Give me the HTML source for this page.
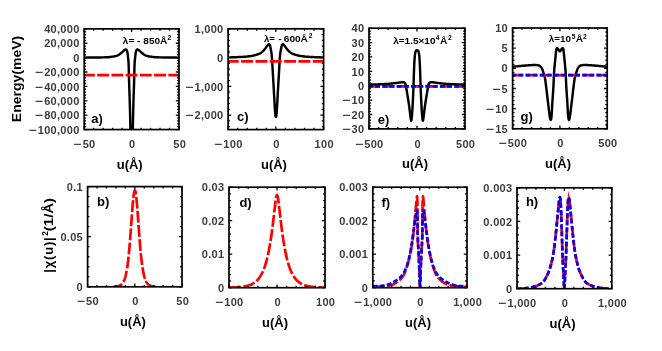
<!DOCTYPE html><html><head><meta charset="utf-8"><title>figure</title><style>html,body{margin:0;padding:0;background:#fff}svg{display:block;will-change:transform}</style></head><body><svg width="662" height="351" viewBox="0 0 662 351">
<style>text{font-family:"Liberation Sans", sans-serif;font-weight:bold}.t{font-size:11px;letter-spacing:0.3px;fill:#3c3c3c}.l{font-size:13px;fill:#000}.m{font-size:9.9px;fill:#000}.s{font-size:6.6px}</style>
<rect width="662" height="351" fill="#fff"/>
<defs>
<clipPath id="cp_a"><rect x="84.2" y="28.85" width="94.8" height="100.7"/></clipPath>
<clipPath id="cp_c"><rect x="228.1" y="28.8" width="95.5" height="100.8"/></clipPath>
<clipPath id="cp_e"><rect x="369" y="28.2" width="96" height="100.7"/></clipPath>
<clipPath id="cp_g"><rect x="512.6" y="28" width="94.6" height="100.8"/></clipPath>
<clipPath id="cp_b"><rect x="87.6" y="186.6" width="94.4" height="100.2"/></clipPath>
<clipPath id="cp_d"><rect x="229" y="187.2" width="96" height="100.5"/></clipPath>
<clipPath id="cp_f"><rect x="372.8" y="187.2" width="94.2" height="100.5"/></clipPath>
<clipPath id="cp_h"><rect x="517" y="187.8" width="94.8" height="100.9"/></clipPath>
</defs>
<path clip-path="url(#cp_a)" d="M84.2 57.6 L85.53 57.6 L86.86 57.59 L88.18 57.59 L89.5 57.58 L90.8 57.57 L92.11 57.55 L93.41 57.54 L94.7 57.52 L95.98 57.51 L97.27 57.49 L98.56 57.47 L99.86 57.45 L101.17 57.42 L102.46 57.4 L103.73 57.36 L104.98 57.32 L106.19 57.28 L107.35 57.23 L108.47 57.17 L109.58 57.08 L110.66 56.97 L111.72 56.82 L112.73 56.66 L113.7 56.48 L114.61 56.28 L115.45 56.09 L116.22 55.87 L116.93 55.63 L117.6 55.35 L118.25 55.05 L118.89 54.71 L119.55 54.33 L120.22 53.85 L120.89 53.31 L121.53 52.74 L122.14 52.19 L122.7 51.69 L123.2 51.24 L123.66 50.78 L124.09 50.37 L124.5 50.03 L124.91 49.78 L125.31 49.56 L125.68 49.42 L126.01 49.43 L126.31 49.65 L126.57 49.96 L126.77 50.29 L126.94 50.72 L127.1 51.23 L127.25 51.8 L127.4 52.5 L127.54 53.3 L127.67 54.19 L127.8 55.11 L127.91 56.04 L128.02 56.94 L128.12 57.84 L128.21 58.77 L128.3 59.72 L128.39 60.66 L128.46 61.6 L128.52 62.51 L128.57 63.38 L128.61 64.22 L128.65 65.02 L128.68 65.83 L128.71 66.64 L128.73 67.49 L128.76 68.38 L128.78 69.29 L128.8 70.21 L128.82 71.16 L128.84 72.14 L128.86 73.16 L128.88 74.22 L128.91 75.34 L128.94 76.53 L128.98 77.8 L129.02 79.12 L129.06 80.49 L129.1 81.89 L129.15 83.3 L129.19 84.71 L129.24 86.1 L129.28 87.45 L129.32 88.76 L129.37 90.05 L129.41 91.32 L129.45 92.59 L129.5 93.85 L129.54 95.11 L129.59 96.39 L129.63 97.68 L129.67 99 L129.71 100.35 L129.75 101.73 L129.79 103.14 L129.83 104.57 L129.87 106.01 L129.91 107.47 L129.95 108.93 L129.99 110.4 L130.02 111.86 L130.06 113.31 L130.09 114.75 L130.13 116.18 L130.16 117.59 L130.19 119 L130.22 120.41 L130.25 121.81 L130.28 123.22 L130.3 124.63 L130.33 126.04 L130.36 127.46 L130.39 128.89 L130.42 130.32 L130.44 131.75 L130.47 133.18 L130.5 134.61 L130.53 136.05 L130.56 137.49 L130.58 138.95 L130.61 140.42 L130.64 141.91 L130.67 143.42 L130.7 144.96 L130.73 146.54 L130.76 148.16 L130.79 149.82 L130.82 151.51 L130.85 153.22 L130.89 154.94 L130.92 156.65 L130.95 158.36 L130.99 160.05 L131.02 161.7 L131.06 163.32 L131.1 164.89 L131.14 166.52 L131.18 168.32 L131.23 170.22 L131.28 172.13 L131.32 174 L131.37 175.73 L131.43 177.27 L131.48 178.53 L131.53 179.44 L131.58 179.94 L131.62 179.94 L131.67 179.44 L131.72 178.53 L131.77 177.27 L131.83 175.73 L131.88 174 L131.92 172.13 L131.97 170.22 L132.02 168.32 L132.06 166.52 L132.1 164.89 L132.14 163.32 L132.18 161.7 L132.21 160.05 L132.25 158.36 L132.28 156.65 L132.31 154.94 L132.35 153.22 L132.38 151.51 L132.41 149.82 L132.44 148.16 L132.47 146.54 L132.5 144.96 L132.53 143.42 L132.56 141.91 L132.59 140.42 L132.62 138.95 L132.64 137.49 L132.67 136.05 L132.7 134.61 L132.73 133.18 L132.76 131.75 L132.78 130.32 L132.81 128.89 L132.84 127.46 L132.87 126.04 L132.9 124.63 L132.92 123.22 L132.95 121.81 L132.98 120.41 L133.01 119 L133.04 117.59 L133.07 116.18 L133.11 114.75 L133.14 113.31 L133.18 111.86 L133.21 110.4 L133.25 108.93 L133.29 107.47 L133.33 106.01 L133.37 104.57 L133.41 103.14 L133.45 101.73 L133.49 100.35 L133.53 99 L133.57 97.68 L133.61 96.39 L133.66 95.11 L133.7 93.85 L133.75 92.59 L133.79 91.32 L133.83 90.05 L133.88 88.76 L133.92 87.45 L133.96 86.1 L134.01 84.71 L134.05 83.3 L134.1 81.89 L134.14 80.49 L134.18 79.12 L134.22 77.8 L134.26 76.53 L134.29 75.34 L134.32 74.22 L134.34 73.16 L134.36 72.14 L134.38 71.16 L134.4 70.21 L134.42 69.29 L134.44 68.38 L134.47 67.49 L134.49 66.64 L134.52 65.83 L134.55 65.02 L134.59 64.22 L134.63 63.38 L134.68 62.51 L134.74 61.6 L134.81 60.66 L134.9 59.72 L134.99 58.77 L135.08 57.84 L135.18 56.94 L135.29 56.04 L135.4 55.11 L135.53 54.19 L135.66 53.3 L135.8 52.5 L135.95 51.8 L136.1 51.23 L136.26 50.72 L136.43 50.29 L136.63 49.96 L136.89 49.65 L137.19 49.43 L137.52 49.42 L137.89 49.56 L138.29 49.78 L138.7 50.03 L139.11 50.37 L139.54 50.78 L140 51.24 L140.5 51.69 L141.06 52.19 L141.67 52.74 L142.31 53.31 L142.98 53.85 L143.65 54.33 L144.31 54.71 L144.95 55.05 L145.6 55.35 L146.27 55.63 L146.98 55.87 L147.75 56.09 L148.59 56.28 L149.5 56.48 L150.47 56.66 L151.48 56.82 L152.54 56.97 L153.62 57.08 L154.73 57.17 L155.85 57.23 L157.01 57.28 L158.22 57.32 L159.47 57.36 L160.74 57.4 L162.03 57.42 L163.34 57.45 L164.64 57.47 L165.93 57.49 L167.22 57.51 L168.5 57.52 L169.79 57.54 L171.09 57.55 L172.4 57.57 L173.7 57.58 L175.02 57.59 L176.34 57.59 L177.67 57.6 L179 57.6" fill="none" stroke="#000" stroke-width="2.45" stroke-linejoin="round"/>
<path clip-path="url(#cp_a)" d="M84.2 75.2 L179 75.2" fill="none" stroke="#ff0000" stroke-width="2.7" stroke-linejoin="round" stroke-dasharray="11.85 2.37" stroke-dashoffset="1.2"/>
<path clip-path="url(#cp_c)" d="M228.1 57.4 L229.35 57.38 L230.57 57.36 L231.78 57.33 L232.96 57.3 L234.11 57.27 L235.24 57.23 L236.35 57.18 L237.43 57.14 L238.49 57.09 L239.53 57.04 L240.54 56.99 L241.52 56.94 L242.48 56.88 L243.42 56.82 L244.35 56.76 L245.26 56.68 L246.14 56.6 L247 56.51 L247.83 56.43 L248.63 56.33 L249.39 56.24 L250.11 56.14 L250.79 56.04 L251.42 55.94 L252.01 55.83 L252.58 55.72 L253.13 55.6 L253.69 55.47 L254.26 55.34 L254.84 55.19 L255.44 55.03 L256.04 54.86 L256.64 54.67 L257.22 54.48 L257.8 54.27 L258.36 54.06 L258.9 53.83 L259.43 53.59 L259.96 53.33 L260.47 53.05 L260.96 52.76 L261.43 52.46 L261.88 52.14 L262.3 51.8 L262.69 51.44 L263.07 51.06 L263.44 50.66 L263.81 50.24 L264.18 49.82 L264.56 49.37 L264.94 48.88 L265.32 48.38 L265.69 47.86 L266.05 47.36 L266.4 46.89 L266.72 46.47 L267.02 46.08 L267.3 45.7 L267.57 45.35 L267.84 45.04 L268.11 44.79 L268.4 44.56 L268.68 44.36 L268.95 44.23 L269.19 44.22 L269.43 44.39 L269.64 44.7 L269.83 45.05 L269.98 45.41 L270.12 45.83 L270.23 46.33 L270.34 46.87 L270.45 47.43 L270.56 47.99 L270.67 48.55 L270.79 49.12 L270.92 49.71 L271.04 50.32 L271.15 50.94 L271.26 51.57 L271.36 52.21 L271.45 52.86 L271.53 53.53 L271.61 54.22 L271.68 54.93 L271.75 55.63 L271.81 56.34 L271.87 57.04 L271.93 57.73 L271.98 58.4 L272.02 59.02 L272.06 59.63 L272.1 60.23 L272.13 60.84 L272.17 61.5 L272.21 62.21 L272.26 62.99 L272.31 63.87 L272.36 64.84 L272.43 65.89 L272.49 67 L272.56 68.18 L272.63 69.4 L272.7 70.65 L272.77 71.92 L272.85 73.21 L272.92 74.49 L272.99 75.75 L273.06 76.99 L273.13 78.19 L273.2 79.36 L273.27 80.52 L273.33 81.68 L273.4 82.84 L273.47 84.01 L273.54 85.17 L273.61 86.33 L273.67 87.49 L273.74 88.65 L273.81 89.81 L273.88 90.98 L273.94 92.14 L274.01 93.31 L274.08 94.48 L274.14 95.69 L274.21 96.93 L274.28 98.19 L274.35 99.47 L274.42 100.74 L274.48 102.01 L274.55 103.26 L274.62 104.48 L274.69 105.66 L274.75 106.79 L274.82 107.85 L274.88 108.85 L274.95 109.76 L275.01 110.61 L275.07 111.44 L275.12 112.23 L275.18 112.98 L275.24 113.68 L275.3 114.33 L275.37 114.92 L275.44 115.43 L275.53 115.92 L275.63 116.41 L275.74 116.82 L275.85 117.07 L275.95 117.07 L276.06 116.82 L276.17 116.41 L276.27 115.92 L276.36 115.43 L276.43 114.92 L276.5 114.33 L276.56 113.68 L276.62 112.98 L276.68 112.23 L276.73 111.44 L276.79 110.61 L276.85 109.76 L276.92 108.85 L276.98 107.85 L277.05 106.79 L277.11 105.66 L277.18 104.48 L277.25 103.26 L277.32 102.01 L277.38 100.74 L277.45 99.47 L277.52 98.19 L277.59 96.93 L277.66 95.69 L277.72 94.48 L277.79 93.31 L277.86 92.14 L277.92 90.98 L277.99 89.81 L278.06 88.65 L278.13 87.49 L278.19 86.33 L278.26 85.17 L278.33 84.01 L278.4 82.84 L278.47 81.68 L278.53 80.52 L278.6 79.36 L278.67 78.19 L278.74 76.99 L278.81 75.75 L278.88 74.49 L278.95 73.21 L279.03 71.92 L279.1 70.65 L279.17 69.4 L279.24 68.18 L279.31 67 L279.37 65.89 L279.44 64.84 L279.49 63.87 L279.54 62.99 L279.59 62.21 L279.63 61.5 L279.67 60.84 L279.7 60.23 L279.74 59.63 L279.78 59.02 L279.82 58.4 L279.87 57.73 L279.93 57.04 L279.99 56.34 L280.05 55.63 L280.12 54.93 L280.19 54.22 L280.27 53.53 L280.35 52.86 L280.44 52.21 L280.54 51.57 L280.65 50.94 L280.76 50.32 L280.88 49.71 L281.01 49.12 L281.13 48.55 L281.24 47.99 L281.35 47.43 L281.46 46.87 L281.57 46.33 L281.68 45.83 L281.82 45.41 L281.97 45.05 L282.16 44.7 L282.37 44.39 L282.61 44.22 L282.85 44.23 L283.12 44.36 L283.4 44.56 L283.69 44.79 L283.96 45.04 L284.23 45.35 L284.5 45.7 L284.78 46.08 L285.08 46.47 L285.4 46.89 L285.75 47.36 L286.11 47.86 L286.48 48.38 L286.86 48.88 L287.24 49.37 L287.62 49.82 L287.99 50.24 L288.36 50.66 L288.73 51.06 L289.11 51.44 L289.5 51.8 L289.92 52.14 L290.37 52.46 L290.84 52.76 L291.33 53.05 L291.84 53.33 L292.37 53.59 L292.9 53.83 L293.44 54.06 L294 54.27 L294.58 54.48 L295.16 54.67 L295.76 54.86 L296.36 55.03 L296.96 55.19 L297.54 55.34 L298.11 55.47 L298.67 55.6 L299.22 55.72 L299.79 55.83 L300.38 55.94 L301.01 56.04 L301.69 56.14 L302.41 56.24 L303.17 56.33 L303.97 56.43 L304.8 56.51 L305.66 56.6 L306.54 56.68 L307.45 56.76 L308.38 56.82 L309.32 56.88 L310.28 56.94 L311.26 56.99 L312.27 57.04 L313.31 57.09 L314.37 57.14 L315.45 57.18 L316.56 57.23 L317.69 57.27 L318.84 57.3 L320.02 57.33 L321.23 57.36 L322.45 57.38 L323.7 57.4" fill="none" stroke="#000" stroke-width="2.45" stroke-linejoin="round"/>
<path clip-path="url(#cp_c)" d="M228.1 61.3 L323.6 61.3" fill="none" stroke="#ff0000" stroke-width="2.7" stroke-linejoin="round" stroke-dasharray="11.94 2.39" stroke-dashoffset="1.3"/>
<path clip-path="url(#cp_e)" d="M368.95 84.6 L369.99 84.58 L371.02 84.57 L372.04 84.54 L373.05 84.52 L374.05 84.49 L375.04 84.47 L376.02 84.43 L376.99 84.4 L377.95 84.37 L378.9 84.33 L379.84 84.29 L380.77 84.26 L381.69 84.22 L382.6 84.17 L383.51 84.13 L384.4 84.08 L385.29 84.03 L386.17 83.97 L387.04 83.91 L387.89 83.85 L388.74 83.79 L389.57 83.72 L390.38 83.65 L391.19 83.58 L391.97 83.51 L392.75 83.43 L393.52 83.34 L394.29 83.25 L395.05 83.15 L395.79 83.05 L396.51 82.95 L397.21 82.85 L397.87 82.76 L398.5 82.67 L399.09 82.59 L399.64 82.52 L400.16 82.44 L400.66 82.36 L401.13 82.29 L401.58 82.24 L402.01 82.21 L402.42 82.2 L402.82 82.22 L403.2 82.25 L403.56 82.3 L403.88 82.36 L404.18 82.44 L404.47 82.62 L404.74 82.88 L404.99 83.18 L405.19 83.49 L405.35 83.8 L405.48 84.14 L405.6 84.51 L405.71 84.89 L405.8 85.28 L405.88 85.65 L405.95 86.01 L406.01 86.36 L406.06 86.73 L406.13 87.14 L406.2 87.61 L406.29 88.15 L406.4 88.78 L406.52 89.47 L406.64 90.22 L406.78 91.02 L406.92 91.85 L407.06 92.71 L407.21 93.59 L407.35 94.46 L407.49 95.33 L407.63 96.19 L407.77 97.06 L407.91 97.96 L408.06 98.88 L408.21 99.83 L408.36 100.79 L408.51 101.76 L408.66 102.72 L408.8 103.69 L408.94 104.64 L409.08 105.58 L409.21 106.49 L409.33 107.37 L409.44 108.23 L409.55 109.08 L409.65 109.93 L409.75 110.78 L409.84 111.61 L409.94 112.43 L410.03 113.23 L410.11 114 L410.2 114.73 L410.28 115.43 L410.37 116.07 L410.45 116.68 L410.54 117.27 L410.62 117.83 L410.7 118.37 L410.77 118.86 L410.85 119.31 L410.93 119.69 L411 120.02 L411.07 120.36 L411.14 120.61 L411.21 120.7 L411.28 120.57 L411.35 120.3 L411.42 119.96 L411.48 119.62 L411.55 119.23 L411.62 118.77 L411.68 118.27 L411.75 117.73 L411.81 117.15 L411.87 116.56 L411.93 115.95 L411.99 115.29 L412.05 114.59 L412.11 113.85 L412.17 113.07 L412.22 112.27 L412.28 111.44 L412.33 110.6 L412.39 109.75 L412.44 108.89 L412.49 108.04 L412.54 107.18 L412.59 106.28 L412.64 105.36 L412.69 104.42 L412.74 103.46 L412.79 102.49 L412.84 101.51 L412.89 100.54 L412.93 99.58 L412.98 98.63 L413.02 97.71 L413.06 96.81 L413.1 95.94 L413.14 95.12 L413.18 94.32 L413.21 93.54 L413.24 92.79 L413.27 92.04 L413.31 91.29 L413.34 90.53 L413.37 89.77 L413.4 88.98 L413.43 88.16 L413.46 87.31 L413.49 86.42 L413.52 85.52 L413.55 84.59 L413.58 83.64 L413.61 82.67 L413.64 81.7 L413.67 80.71 L413.7 79.72 L413.73 78.73 L413.76 77.74 L413.79 76.75 L413.82 75.77 L413.86 74.8 L413.89 73.82 L413.93 72.82 L413.97 71.82 L414 70.81 L414.04 69.79 L414.08 68.78 L414.12 67.77 L414.16 66.78 L414.21 65.8 L414.25 64.84 L414.3 63.9 L414.34 62.99 L414.39 62.12 L414.44 61.26 L414.49 60.41 L414.55 59.57 L414.6 58.74 L414.65 57.94 L414.71 57.15 L414.78 56.4 L414.85 55.68 L414.92 55 L415 54.36 L415.08 53.78 L415.18 53.2 L415.3 52.63 L415.42 52.09 L415.56 51.6 L415.72 51.2 L415.89 50.88 L416.08 50.66 L416.34 50.46 L416.62 50.31 L416.91 50.21 L417.19 50.21 L417.48 50.31 L417.76 50.46 L418.02 50.66 L418.21 50.88 L418.38 51.2 L418.54 51.6 L418.68 52.09 L418.8 52.63 L418.92 53.2 L419.02 53.78 L419.1 54.36 L419.18 55 L419.25 55.68 L419.32 56.4 L419.39 57.15 L419.45 57.94 L419.5 58.74 L419.55 59.57 L419.61 60.41 L419.66 61.26 L419.71 62.12 L419.76 62.99 L419.8 63.9 L419.85 64.84 L419.89 65.8 L419.94 66.78 L419.98 67.77 L420.02 68.78 L420.06 69.79 L420.1 70.81 L420.13 71.82 L420.17 72.82 L420.21 73.82 L420.24 74.8 L420.28 75.77 L420.31 76.75 L420.34 77.74 L420.37 78.73 L420.4 79.72 L420.43 80.71 L420.46 81.7 L420.49 82.67 L420.52 83.64 L420.55 84.59 L420.58 85.52 L420.61 86.42 L420.64 87.31 L420.67 88.16 L420.7 88.98 L420.73 89.77 L420.76 90.53 L420.79 91.29 L420.83 92.04 L420.86 92.79 L420.89 93.54 L420.92 94.32 L420.96 95.12 L421 95.94 L421.04 96.81 L421.08 97.71 L421.12 98.63 L421.17 99.58 L421.21 100.54 L421.26 101.51 L421.31 102.49 L421.36 103.46 L421.41 104.42 L421.46 105.36 L421.51 106.28 L421.56 107.18 L421.61 108.04 L421.66 108.89 L421.71 109.75 L421.77 110.6 L421.82 111.44 L421.88 112.27 L421.93 113.07 L421.99 113.85 L422.05 114.59 L422.11 115.29 L422.17 115.95 L422.23 116.56 L422.29 117.15 L422.35 117.73 L422.42 118.27 L422.48 118.77 L422.55 119.23 L422.62 119.62 L422.68 119.96 L422.75 120.3 L422.82 120.57 L422.89 120.7 L422.96 120.61 L423.03 120.36 L423.1 120.02 L423.17 119.69 L423.25 119.31 L423.33 118.86 L423.4 118.37 L423.48 117.83 L423.56 117.27 L423.65 116.68 L423.73 116.07 L423.82 115.43 L423.9 114.73 L423.99 114 L424.07 113.23 L424.16 112.43 L424.26 111.61 L424.35 110.78 L424.45 109.93 L424.55 109.08 L424.66 108.23 L424.77 107.37 L424.89 106.49 L425.02 105.58 L425.16 104.64 L425.3 103.69 L425.44 102.72 L425.59 101.76 L425.74 100.79 L425.89 99.83 L426.04 98.88 L426.19 97.96 L426.33 97.06 L426.47 96.19 L426.61 95.33 L426.75 94.46 L426.89 93.59 L427.04 92.71 L427.18 91.85 L427.32 91.02 L427.46 90.22 L427.58 89.47 L427.7 88.78 L427.81 88.15 L427.9 87.61 L427.97 87.14 L428.04 86.73 L428.09 86.36 L428.15 86.01 L428.22 85.65 L428.3 85.28 L428.39 84.89 L428.5 84.51 L428.62 84.14 L428.75 83.8 L428.91 83.49 L429.11 83.18 L429.36 82.88 L429.63 82.62 L429.92 82.44 L430.22 82.36 L430.54 82.3 L430.9 82.25 L431.28 82.22 L431.68 82.2 L432.09 82.21 L432.52 82.24 L432.97 82.29 L433.44 82.36 L433.94 82.44 L434.46 82.52 L435.01 82.59 L435.6 82.67 L436.23 82.76 L436.89 82.85 L437.59 82.95 L438.31 83.05 L439.05 83.15 L439.81 83.25 L440.58 83.34 L441.35 83.43 L442.13 83.51 L442.91 83.58 L443.72 83.65 L444.53 83.72 L445.36 83.79 L446.21 83.85 L447.06 83.91 L447.93 83.97 L448.81 84.03 L449.7 84.08 L450.59 84.13 L451.5 84.17 L452.41 84.22 L453.33 84.26 L454.26 84.29 L455.2 84.33 L456.15 84.37 L457.11 84.4 L458.08 84.43 L459.06 84.47 L460.05 84.49 L461.05 84.52 L462.06 84.54 L463.08 84.57 L464.11 84.58 L465.15 84.6" fill="none" stroke="#000" stroke-width="2.45" stroke-linejoin="round"/>
<path clip-path="url(#cp_e)" d="M369 86.4 L465 86.4" fill="none" stroke="#ff0000" stroke-width="2.7" stroke-linejoin="round" stroke-dasharray="12 2.4" stroke-dashoffset="0.95"/>
<path clip-path="url(#cp_e)" d="M369 86.4 L465 86.4" fill="none" stroke="#0000ff" stroke-width="2.7" stroke-linejoin="round" stroke-dasharray="4.9 2.3" stroke-dashoffset="1.13"/>
<path clip-path="url(#cp_g)" d="M512.45 66.8 L513.47 66.69 L514.48 66.58 L515.48 66.47 L516.47 66.36 L517.46 66.26 L518.43 66.17 L519.39 66.07 L520.34 65.98 L521.29 65.89 L522.22 65.81 L523.15 65.73 L524.06 65.66 L524.97 65.59 L525.87 65.52 L526.79 65.45 L527.7 65.38 L528.61 65.31 L529.5 65.24 L530.38 65.18 L531.24 65.12 L532.07 65.07 L532.86 65.04 L533.62 65.01 L534.33 65 L535 65.01 L535.64 65.04 L536.26 65.08 L536.86 65.14 L537.42 65.22 L537.95 65.31 L538.45 65.41 L538.92 65.52 L539.35 65.68 L539.76 65.91 L540.15 66.21 L540.51 66.55 L540.86 66.92 L541.18 67.31 L541.48 67.73 L541.78 68.25 L542.06 68.83 L542.33 69.47 L542.59 70.15 L542.84 70.85 L543.07 71.54 L543.3 72.23 L543.51 72.87 L543.71 73.48 L543.9 74.08 L544.09 74.68 L544.27 75.27 L544.44 75.86 L544.6 76.45 L544.75 77.06 L544.89 77.68 L545.01 78.31 L545.12 78.92 L545.21 79.54 L545.3 80.16 L545.39 80.79 L545.47 81.44 L545.56 82.12 L545.65 82.84 L545.75 83.6 L545.86 84.43 L545.97 85.33 L546.09 86.3 L546.22 87.33 L546.35 88.41 L546.49 89.54 L546.63 90.7 L546.77 91.9 L546.91 93.11 L547.05 94.34 L547.2 95.56 L547.34 96.79 L547.49 98 L547.63 99.19 L547.77 100.34 L547.91 101.48 L548.05 102.65 L548.2 103.89 L548.35 105.16 L548.5 106.45 L548.65 107.75 L548.8 109.04 L548.95 110.31 L549.1 111.53 L549.25 112.71 L549.39 113.82 L549.53 114.84 L549.66 115.76 L549.78 116.56 L549.9 117.24 L550.01 117.79 L550.1 118.29 L550.19 118.73 L550.28 119.11 L550.37 119.42 L550.47 119.64 L550.58 119.81 L550.69 119.9 L550.8 119.83 L550.91 119.67 L551.01 119.46 L551.1 119.17 L551.18 118.8 L551.27 118.37 L551.34 117.88 L551.42 117.34 L551.5 116.68 L551.57 115.89 L551.65 114.98 L551.72 113.97 L551.79 112.88 L551.86 111.71 L551.93 110.48 L552 109.22 L552.06 107.92 L552.13 106.62 L552.2 105.32 L552.27 104.05 L552.34 102.8 L552.41 101.61 L552.48 100.48 L552.56 99.34 L552.64 98.18 L552.72 97.01 L552.8 95.83 L552.88 94.65 L552.96 93.47 L553.04 92.29 L553.12 91.12 L553.2 89.97 L553.27 88.84 L553.34 87.73 L553.41 86.64 L553.47 85.59 L553.52 84.58 L553.57 83.61 L553.61 82.67 L553.65 81.78 L553.68 80.91 L553.71 80.06 L553.74 79.23 L553.77 78.41 L553.8 77.59 L553.83 76.77 L553.87 75.93 L553.9 75.08 L553.95 74.21 L554 73.31 L554.06 72.4 L554.13 71.47 L554.2 70.53 L554.28 69.59 L554.36 68.65 L554.44 67.7 L554.53 66.76 L554.62 65.83 L554.7 64.9 L554.79 63.99 L554.87 63.1 L554.95 62.22 L555.04 61.32 L555.13 60.42 L555.22 59.52 L555.31 58.62 L555.4 57.74 L555.49 56.88 L555.58 56.05 L555.66 55.26 L555.74 54.51 L555.82 53.82 L555.88 53.18 L555.94 52.57 L555.99 52 L556.03 51.45 L556.08 50.94 L556.14 50.46 L556.21 50.02 L556.29 49.6 L556.41 49.16 L556.55 48.73 L556.71 48.4 L556.89 48.21 L557.09 48.22 L557.33 48.33 L557.6 48.5 L557.84 48.69 L558.05 48.93 L558.25 49.25 L558.44 49.61 L558.64 49.97 L558.84 50.28 L559.06 50.59 L559.28 50.92 L559.51 51.2 L559.74 51.38 L559.96 51.38 L560.19 51.2 L560.42 50.92 L560.64 50.59 L560.86 50.28 L561.06 49.97 L561.26 49.61 L561.45 49.25 L561.65 48.93 L561.86 48.69 L562.1 48.5 L562.37 48.33 L562.61 48.22 L562.81 48.21 L562.99 48.4 L563.15 48.73 L563.29 49.16 L563.41 49.6 L563.49 50.02 L563.56 50.46 L563.62 50.94 L563.67 51.45 L563.71 52 L563.76 52.57 L563.82 53.18 L563.88 53.82 L563.96 54.51 L564.04 55.26 L564.12 56.05 L564.21 56.88 L564.3 57.74 L564.39 58.62 L564.48 59.52 L564.57 60.42 L564.66 61.32 L564.75 62.22 L564.83 63.1 L564.91 63.99 L565 64.9 L565.08 65.83 L565.17 66.76 L565.26 67.7 L565.34 68.65 L565.42 69.59 L565.5 70.53 L565.57 71.47 L565.64 72.4 L565.7 73.31 L565.75 74.21 L565.8 75.08 L565.83 75.93 L565.87 76.77 L565.9 77.59 L565.93 78.41 L565.96 79.23 L565.99 80.06 L566.02 80.91 L566.05 81.78 L566.09 82.67 L566.13 83.61 L566.18 84.58 L566.23 85.59 L566.29 86.64 L566.36 87.73 L566.43 88.84 L566.5 89.97 L566.58 91.12 L566.66 92.29 L566.74 93.47 L566.82 94.65 L566.9 95.83 L566.98 97.01 L567.06 98.18 L567.14 99.34 L567.22 100.48 L567.29 101.61 L567.36 102.8 L567.43 104.05 L567.5 105.32 L567.57 106.62 L567.64 107.92 L567.7 109.22 L567.77 110.48 L567.84 111.71 L567.91 112.88 L567.98 113.97 L568.05 114.98 L568.13 115.89 L568.2 116.68 L568.28 117.34 L568.36 117.88 L568.43 118.37 L568.52 118.8 L568.6 119.17 L568.69 119.46 L568.79 119.67 L568.9 119.83 L569.01 119.9 L569.12 119.81 L569.23 119.64 L569.33 119.42 L569.42 119.11 L569.51 118.73 L569.6 118.29 L569.69 117.79 L569.8 117.24 L569.92 116.56 L570.04 115.76 L570.17 114.84 L570.31 113.82 L570.45 112.71 L570.6 111.53 L570.75 110.31 L570.9 109.04 L571.05 107.75 L571.2 106.45 L571.35 105.16 L571.5 103.89 L571.65 102.65 L571.79 101.48 L571.93 100.34 L572.07 99.19 L572.21 98 L572.36 96.79 L572.5 95.56 L572.65 94.34 L572.79 93.11 L572.93 91.9 L573.07 90.7 L573.21 89.54 L573.35 88.41 L573.48 87.33 L573.61 86.3 L573.73 85.33 L573.84 84.43 L573.95 83.6 L574.05 82.84 L574.14 82.12 L574.23 81.44 L574.31 80.79 L574.4 80.16 L574.49 79.54 L574.58 78.92 L574.69 78.31 L574.81 77.68 L574.95 77.06 L575.1 76.45 L575.26 75.86 L575.43 75.27 L575.61 74.68 L575.8 74.08 L575.99 73.48 L576.19 72.87 L576.4 72.23 L576.63 71.54 L576.86 70.85 L577.11 70.15 L577.37 69.47 L577.64 68.83 L577.92 68.25 L578.22 67.73 L578.52 67.31 L578.84 66.92 L579.19 66.55 L579.55 66.21 L579.94 65.91 L580.35 65.68 L580.78 65.52 L581.25 65.41 L581.75 65.31 L582.28 65.22 L582.84 65.14 L583.44 65.08 L584.06 65.04 L584.7 65.01 L585.37 65 L586.08 65.01 L586.84 65.04 L587.63 65.07 L588.46 65.12 L589.32 65.18 L590.2 65.24 L591.09 65.31 L592 65.38 L592.91 65.45 L593.83 65.52 L594.73 65.59 L595.64 65.66 L596.55 65.73 L597.48 65.81 L598.41 65.89 L599.36 65.98 L600.31 66.07 L601.27 66.17 L602.24 66.26 L603.23 66.36 L604.22 66.47 L605.22 66.58 L606.23 66.69 L607.25 66.8" fill="none" stroke="#000" stroke-width="2.45" stroke-linejoin="round"/>
<path clip-path="url(#cp_g)" d="M512.6 75.2 L607.2 75.2" fill="none" stroke="#ff0000" stroke-width="2.7" stroke-linejoin="round" stroke-dasharray="11.83 2.37" stroke-dashoffset="1.2"/>
<path clip-path="url(#cp_g)" d="M512.6 75.2 L607.2 75.2" fill="none" stroke="#0000ff" stroke-width="2.7" stroke-linejoin="round" stroke-dasharray="4.82 2.27" stroke-dashoffset="1.22"/>
<path clip-path="url(#cp_b)" d="M113.35 286.68 L113.57 286.67 L113.78 286.66 L114 286.65 L114.21 286.64 L114.43 286.63 L114.65 286.61 L114.86 286.6 L115.08 286.58 L115.29 286.56 L115.51 286.54 L115.73 286.52 L115.94 286.49 L116.16 286.47 L116.38 286.44 L116.59 286.41 L116.81 286.38 L117.02 286.34 L117.24 286.3 L117.46 286.26 L117.67 286.21 L117.89 286.16 L118.1 286.11 L118.32 286.05 L118.54 285.99 L118.75 285.92 L118.97 285.84 L119.18 285.76 L119.4 285.67 L119.62 285.58 L119.83 285.48 L120.05 285.37 L120.26 285.24 L120.48 285.11 L120.7 284.97 L120.91 284.82 L121.13 284.65 L121.34 284.47 L121.56 284.28 L121.78 284.06 L121.99 283.84 L122.21 283.59 L122.43 283.32 L122.64 283.03 L122.86 282.72 L123.07 282.38 L123.29 282.01 L123.51 281.62 L123.72 281.19 L123.94 280.73 L124.15 280.23 L124.37 279.69 L124.59 279.11 L124.8 278.49 L125.02 277.82 L125.23 277.09 L125.45 276.31 L125.67 275.48 L125.88 274.58 L126.1 273.61 L126.31 272.58 L126.53 271.47 L126.75 270.29 L126.96 269.02 L127.18 267.67 L127.4 266.23 L127.61 264.69 L127.83 263.06 L128.04 261.33 L128.26 259.5 L128.48 257.56 L128.69 255.52 L128.91 253.37 L129.12 251.11 L129.34 248.75 L129.56 246.29 L129.77 243.72 L129.99 241.07 L130.2 238.32 L130.42 235.5 L130.64 232.61 L130.85 229.66 L131.07 226.67 L131.28 223.65 L131.5 220.63 L131.72 217.63 L131.93 214.65 L132.15 211.74 L132.37 208.91 L132.58 206.2 L132.8 203.62 L133.01 201.2 L133.23 198.97 L133.45 196.96 L133.66 195.18 L133.88 193.67 L134.09 192.43 L134.31 191.49 L134.53 190.86 L134.74 190.54 L134.96 190.54 L135.17 190.86 L135.39 191.49 L135.61 192.43 L135.82 193.67 L136.04 195.18 L136.25 196.96 L136.47 198.97 L136.69 201.2 L136.9 203.62 L137.12 206.2 L137.33 208.91 L137.55 211.74 L137.77 214.65 L137.98 217.63 L138.2 220.63 L138.42 223.65 L138.63 226.67 L138.85 229.66 L139.06 232.61 L139.28 235.5 L139.5 238.32 L139.71 241.07 L139.93 243.72 L140.14 246.29 L140.36 248.75 L140.58 251.11 L140.79 253.37 L141.01 255.52 L141.22 257.56 L141.44 259.5 L141.66 261.33 L141.87 263.06 L142.09 264.69 L142.3 266.23 L142.52 267.67 L142.74 269.02 L142.95 270.29 L143.17 271.47 L143.39 272.58 L143.6 273.61 L143.82 274.58 L144.03 275.48 L144.25 276.31 L144.47 277.09 L144.68 277.82 L144.9 278.49 L145.11 279.11 L145.33 279.69 L145.55 280.23 L145.76 280.73 L145.98 281.19 L146.19 281.62 L146.41 282.01 L146.63 282.38 L146.84 282.72 L147.06 283.03 L147.27 283.32 L147.49 283.59 L147.71 283.84 L147.92 284.06 L148.14 284.28 L148.36 284.47 L148.57 284.65 L148.79 284.82 L149 284.97 L149.22 285.11 L149.44 285.24 L149.65 285.37 L149.87 285.48 L150.08 285.58 L150.3 285.67 L150.52 285.76 L150.73 285.84 L150.95 285.92 L151.16 285.99 L151.38 286.05 L151.6 286.11 L151.81 286.16 L152.03 286.21 L152.24 286.26 L152.46 286.3 L152.68 286.34 L152.89 286.38 L153.11 286.41 L153.32 286.44 L153.54 286.47 L153.76 286.49 L153.97 286.52 L154.19 286.54 L154.41 286.56 L154.62 286.58 L154.84 286.6 L155.05 286.61 L155.27 286.63 L155.49 286.64 L155.7 286.65 L155.92 286.66 L156.13 286.67 L156.35 286.68" fill="none" stroke="#ff0000" stroke-width="2.7" stroke-linejoin="round" stroke-dasharray="11.8 2.36" stroke-dashoffset="2.5"/>
<path clip-path="url(#cp_d)" d="M229 287.56 L229.39 287.55 L229.77 287.54 L230.16 287.53 L230.54 287.52 L230.93 287.51 L231.31 287.5 L231.7 287.49 L232.08 287.48 L232.47 287.47 L232.86 287.45 L233.24 287.44 L233.63 287.43 L234.01 287.41 L234.4 287.39 L234.78 287.38 L235.17 287.36 L235.55 287.34 L235.94 287.32 L236.33 287.3 L236.71 287.28 L237.1 287.25 L237.48 287.23 L237.87 287.2 L238.25 287.18 L238.64 287.15 L239.02 287.12 L239.41 287.08 L239.8 287.05 L240.18 287.01 L240.57 286.98 L240.95 286.94 L241.34 286.89 L241.72 286.85 L242.11 286.8 L242.49 286.75 L242.88 286.7 L243.27 286.64 L243.65 286.59 L244.04 286.52 L244.42 286.46 L244.81 286.39 L245.19 286.32 L245.58 286.24 L245.96 286.16 L246.35 286.07 L246.73 285.99 L247.12 285.89 L247.51 285.79 L247.89 285.68 L248.28 285.57 L248.66 285.45 L249.05 285.33 L249.43 285.2 L249.82 285.06 L250.2 284.92 L250.59 284.76 L250.98 284.6 L251.36 284.43 L251.75 284.25 L252.13 284.05 L252.52 283.85 L252.9 283.64 L253.29 283.42 L253.67 283.18 L254.06 282.93 L254.45 282.67 L254.83 282.39 L255.22 282.09 L255.6 281.78 L255.99 281.46 L256.37 281.11 L256.76 280.75 L257.14 280.36 L257.53 279.96 L257.92 279.53 L258.3 279.08 L258.69 278.61 L259.07 278.1 L259.46 277.57 L259.84 277.02 L260.23 276.43 L260.61 275.81 L261 275.15 L261.39 274.46 L261.77 273.73 L262.16 272.96 L262.54 272.15 L262.93 271.29 L263.31 270.39 L263.7 269.44 L264.08 268.44 L264.47 267.38 L264.86 266.27 L265.24 265.09 L265.63 263.85 L266.01 262.55 L266.4 261.17 L266.78 259.73 L267.17 258.2 L267.55 256.59 L267.94 254.9 L268.33 253.12 L268.71 251.25 L269.1 249.27 L269.48 247.2 L269.87 245.02 L270.25 242.74 L270.64 240.34 L271.02 237.82 L271.41 235.18 L271.8 232.43 L272.18 229.55 L272.57 226.56 L272.95 223.45 L273.34 220.23 L273.72 216.93 L274.11 213.57 L274.49 210.17 L274.88 206.82 L275.27 203.58 L275.65 200.6 L276.04 198.05 L276.42 196.15 L276.81 195.12 L277.19 195.12 L277.58 196.15 L277.96 198.05 L278.35 200.6 L278.73 203.58 L279.12 206.82 L279.51 210.17 L279.89 213.57 L280.28 216.93 L280.66 220.23 L281.05 223.45 L281.43 226.56 L281.82 229.55 L282.2 232.43 L282.59 235.18 L282.98 237.82 L283.36 240.34 L283.75 242.74 L284.13 245.02 L284.52 247.2 L284.9 249.27 L285.29 251.25 L285.67 253.12 L286.06 254.9 L286.45 256.59 L286.83 258.2 L287.22 259.73 L287.6 261.17 L287.99 262.55 L288.37 263.85 L288.76 265.09 L289.14 266.27 L289.53 267.38 L289.92 268.44 L290.3 269.44 L290.69 270.39 L291.07 271.29 L291.46 272.15 L291.84 272.96 L292.23 273.73 L292.61 274.46 L293 275.15 L293.39 275.81 L293.77 276.43 L294.16 277.02 L294.54 277.57 L294.93 278.1 L295.31 278.61 L295.7 279.08 L296.08 279.53 L296.47 279.96 L296.86 280.36 L297.24 280.75 L297.63 281.11 L298.01 281.46 L298.4 281.78 L298.78 282.09 L299.17 282.39 L299.55 282.67 L299.94 282.93 L300.33 283.18 L300.71 283.42 L301.1 283.64 L301.48 283.85 L301.87 284.05 L302.25 284.25 L302.64 284.43 L303.02 284.6 L303.41 284.76 L303.8 284.92 L304.18 285.06 L304.57 285.2 L304.95 285.33 L305.34 285.45 L305.72 285.57 L306.11 285.68 L306.49 285.79 L306.88 285.89 L307.27 285.99 L307.65 286.07 L308.04 286.16 L308.42 286.24 L308.81 286.32 L309.19 286.39 L309.58 286.46 L309.96 286.52 L310.35 286.59 L310.73 286.64 L311.12 286.7 L311.51 286.75 L311.89 286.8 L312.28 286.85 L312.66 286.89 L313.05 286.94 L313.43 286.98 L313.82 287.01 L314.2 287.05 L314.59 287.08 L314.98 287.12 L315.36 287.15 L315.75 287.18 L316.13 287.2 L316.52 287.23 L316.9 287.25 L317.29 287.28 L317.67 287.3 L318.06 287.32 L318.45 287.34 L318.83 287.36 L319.22 287.38 L319.6 287.39 L319.99 287.41 L320.37 287.43 L320.76 287.44 L321.14 287.45 L321.53 287.47 L321.92 287.48 L322.3 287.49 L322.69 287.5 L323.07 287.51 L323.46 287.52 L323.84 287.53 L324.23 287.54 L324.61 287.55 L325 287.56" fill="none" stroke="#ff0000" stroke-width="2.7" stroke-linejoin="round" stroke-dasharray="12 2.4" stroke-dashoffset="0"/>
<path clip-path="url(#cp_f)" d="M372.8 287.1 L373.68 287.05 L374.54 287 L375.38 286.94 L376.21 286.89 L377.03 286.83 L377.82 286.77 L378.6 286.71 L379.36 286.65 L380.1 286.59 L380.83 286.52 L381.54 286.46 L382.23 286.39 L382.9 286.33 L383.55 286.26 L384.19 286.19 L384.81 286.12 L385.4 286.05 L385.97 285.99 L386.52 285.92 L387.04 285.86 L387.55 285.79 L388.05 285.72 L388.54 285.64 L389.02 285.56 L389.51 285.48 L389.99 285.38 L390.49 285.27 L390.99 285.15 L391.5 285.01 L392.01 284.83 L392.52 284.64 L393.03 284.42 L393.54 284.18 L394.05 283.92 L394.56 283.65 L395.06 283.36 L395.55 283.06 L396.04 282.76 L396.53 282.45 L397 282.13 L397.48 281.79 L397.97 281.43 L398.46 281.05 L398.95 280.64 L399.44 280.21 L399.92 279.77 L400.4 279.31 L400.86 278.83 L401.31 278.35 L401.74 277.85 L402.15 277.34 L402.54 276.83 L402.9 276.31 L403.23 275.79 L403.55 275.25 L403.85 274.7 L404.14 274.13 L404.42 273.55 L404.68 272.95 L404.94 272.34 L405.19 271.72 L405.44 271.08 L405.68 270.43 L405.91 269.77 L406.14 269.1 L406.37 268.41 L406.6 267.72 L406.83 267.02 L407.06 266.31 L407.29 265.57 L407.51 264.81 L407.74 264.03 L407.96 263.23 L408.19 262.42 L408.41 261.59 L408.62 260.75 L408.84 259.9 L409.05 259.04 L409.25 258.18 L409.45 257.31 L409.65 256.45 L409.84 255.58 L410.03 254.71 L410.21 253.85 L410.39 252.99 L410.56 252.15 L410.72 251.31 L410.87 250.48 L411.03 249.66 L411.17 248.84 L411.32 248.03 L411.46 247.22 L411.6 246.41 L411.73 245.61 L411.86 244.8 L411.99 243.98 L412.12 243.16 L412.24 242.34 L412.36 241.51 L412.48 240.67 L412.6 239.82 L412.72 238.95 L412.83 238.08 L412.95 237.19 L413.06 236.28 L413.18 235.35 L413.29 234.39 L413.41 233.41 L413.52 232.4 L413.63 231.36 L413.74 230.31 L413.85 229.24 L413.96 228.16 L414.07 227.07 L414.17 225.97 L414.28 224.88 L414.38 223.78 L414.48 222.68 L414.58 221.59 L414.68 220.51 L414.78 219.44 L414.88 218.39 L414.97 217.36 L415.06 216.35 L415.15 215.36 L415.24 214.41 L415.33 213.48 L415.41 212.59 L415.49 211.71 L415.57 210.83 L415.65 209.95 L415.73 209.07 L415.81 208.2 L415.89 207.34 L415.96 206.49 L416.04 205.66 L416.11 204.85 L416.18 204.07 L416.25 203.32 L416.31 202.59 L416.38 201.9 L416.44 201.25 L416.5 200.65 L416.56 200.08 L416.61 199.56 L416.67 199.04 L416.72 198.5 L416.77 197.97 L416.81 197.48 L416.86 197.04 L416.9 196.69 L416.94 196.44 L416.99 196.31 L417.03 196.33 L417.07 196.49 L417.11 196.78 L417.16 197.17 L417.2 197.65 L417.24 198.21 L417.28 198.83 L417.31 199.49 L417.35 200.18 L417.37 200.87 L417.4 201.55 L417.41 202.26 L417.43 203.06 L417.45 203.95 L417.46 204.93 L417.47 205.98 L417.48 207.11 L417.49 208.31 L417.5 209.56 L417.51 210.87 L417.52 212.22 L417.53 213.6 L417.54 215.02 L417.54 216.47 L417.55 217.93 L417.56 219.4 L417.57 220.88 L417.57 222.35 L417.58 223.82 L417.59 225.27 L417.6 226.69 L417.61 228.09 L417.62 229.45 L417.63 230.76 L417.64 232.03 L417.66 233.24 L417.67 234.38 L417.69 235.46 L417.71 236.46 L417.73 237.42 L417.76 238.36 L417.8 239.26 L417.83 240.15 L417.87 241.01 L417.92 241.85 L417.96 242.68 L418.01 243.49 L418.06 244.3 L418.12 245.09 L418.17 245.88 L418.22 246.67 L418.27 247.47 L418.32 248.26 L418.37 249.06 L418.42 249.87 L418.46 250.69 L418.51 251.52 L418.55 252.36 L418.59 253.19 L418.63 254.02 L418.67 254.84 L418.7 255.66 L418.74 256.48 L418.78 257.3 L418.82 258.13 L418.86 258.95 L418.89 259.78 L418.93 260.61 L418.97 261.44 L419.01 262.29 L419.04 263.14 L419.08 264 L419.12 264.87 L419.16 265.75 L419.19 266.65 L419.23 267.59 L419.27 268.62 L419.31 269.73 L419.34 270.91 L419.38 272.14 L419.42 273.41 L419.46 274.71 L419.49 276.02 L419.53 277.32 L419.57 278.61 L419.61 279.86 L419.64 281.08 L419.68 282.23 L419.72 283.31 L419.76 284.31 L419.79 285.2 L419.83 285.98 L419.87 286.63 L419.91 287.14 L419.94 287.49 L419.98 287.68 L420.02 287.68 L420.06 287.49 L420.09 287.14 L420.13 286.63 L420.17 285.98 L420.21 285.2 L420.24 284.31 L420.28 283.31 L420.32 282.23 L420.36 281.08 L420.39 279.86 L420.43 278.61 L420.47 277.32 L420.51 276.02 L420.54 274.71 L420.58 273.41 L420.62 272.14 L420.66 270.91 L420.69 269.73 L420.73 268.62 L420.77 267.59 L420.81 266.65 L420.84 265.75 L420.88 264.87 L420.92 264 L420.96 263.14 L420.99 262.29 L421.03 261.44 L421.07 260.61 L421.11 259.78 L421.14 258.95 L421.18 258.13 L421.22 257.3 L421.26 256.48 L421.3 255.66 L421.33 254.84 L421.37 254.02 L421.41 253.19 L421.45 252.36 L421.49 251.52 L421.54 250.69 L421.58 249.87 L421.63 249.06 L421.68 248.26 L421.73 247.47 L421.78 246.67 L421.83 245.88 L421.88 245.09 L421.94 244.3 L421.99 243.49 L422.04 242.68 L422.08 241.85 L422.13 241.01 L422.17 240.15 L422.2 239.26 L422.24 238.36 L422.27 237.42 L422.29 236.46 L422.31 235.46 L422.33 234.38 L422.34 233.24 L422.36 232.03 L422.37 230.76 L422.38 229.45 L422.39 228.09 L422.4 226.69 L422.41 225.27 L422.42 223.82 L422.43 222.35 L422.43 220.88 L422.44 219.4 L422.45 217.93 L422.46 216.47 L422.46 215.02 L422.47 213.6 L422.48 212.22 L422.49 210.87 L422.5 209.56 L422.51 208.31 L422.52 207.11 L422.53 205.98 L422.54 204.93 L422.55 203.95 L422.57 203.06 L422.59 202.26 L422.6 201.55 L422.63 200.87 L422.65 200.18 L422.69 199.49 L422.72 198.83 L422.76 198.21 L422.8 197.65 L422.84 197.17 L422.89 196.78 L422.93 196.49 L422.97 196.33 L423.01 196.31 L423.06 196.44 L423.1 196.69 L423.14 197.04 L423.19 197.48 L423.23 197.97 L423.28 198.5 L423.33 199.04 L423.39 199.56 L423.44 200.08 L423.5 200.65 L423.56 201.25 L423.62 201.9 L423.69 202.59 L423.75 203.32 L423.82 204.07 L423.89 204.85 L423.96 205.66 L424.04 206.49 L424.11 207.34 L424.19 208.2 L424.27 209.07 L424.35 209.95 L424.43 210.83 L424.51 211.71 L424.59 212.59 L424.67 213.48 L424.76 214.41 L424.85 215.36 L424.94 216.35 L425.03 217.36 L425.12 218.39 L425.22 219.44 L425.32 220.51 L425.42 221.59 L425.52 222.68 L425.62 223.78 L425.72 224.88 L425.83 225.97 L425.93 227.07 L426.04 228.16 L426.15 229.24 L426.26 230.31 L426.37 231.36 L426.48 232.4 L426.59 233.41 L426.71 234.39 L426.82 235.35 L426.94 236.28 L427.05 237.19 L427.17 238.08 L427.28 238.95 L427.4 239.82 L427.52 240.67 L427.64 241.51 L427.76 242.34 L427.88 243.16 L428.01 243.98 L428.14 244.8 L428.27 245.61 L428.4 246.41 L428.54 247.22 L428.68 248.03 L428.83 248.84 L428.97 249.66 L429.13 250.48 L429.28 251.31 L429.44 252.15 L429.61 252.99 L429.79 253.85 L429.97 254.71 L430.16 255.58 L430.35 256.45 L430.55 257.31 L430.75 258.18 L430.95 259.04 L431.16 259.9 L431.38 260.75 L431.59 261.59 L431.81 262.42 L432.04 263.23 L432.26 264.03 L432.49 264.81 L432.71 265.57 L432.94 266.31 L433.17 267.02 L433.4 267.72 L433.63 268.41 L433.86 269.1 L434.09 269.77 L434.32 270.43 L434.56 271.08 L434.81 271.72 L435.06 272.34 L435.32 272.95 L435.58 273.55 L435.86 274.13 L436.15 274.7 L436.45 275.25 L436.77 275.79 L437.1 276.31 L437.46 276.83 L437.85 277.34 L438.26 277.85 L438.69 278.35 L439.14 278.83 L439.6 279.31 L440.08 279.77 L440.56 280.21 L441.05 280.64 L441.54 281.05 L442.03 281.43 L442.52 281.79 L443 282.13 L443.47 282.45 L443.96 282.76 L444.45 283.06 L444.94 283.36 L445.44 283.65 L445.95 283.92 L446.46 284.18 L446.97 284.42 L447.48 284.64 L447.99 284.83 L448.5 285.01 L449.01 285.15 L449.51 285.27 L450.01 285.38 L450.49 285.48 L450.98 285.56 L451.46 285.64 L451.95 285.72 L452.45 285.79 L452.96 285.86 L453.48 285.92 L454.03 285.99 L454.6 286.05 L455.19 286.12 L455.81 286.19 L456.45 286.26 L457.1 286.33 L457.77 286.39 L458.46 286.46 L459.17 286.52 L459.9 286.59 L460.64 286.65 L461.4 286.71 L462.18 286.77 L462.97 286.83 L463.79 286.89 L464.62 286.94 L465.46 287 L466.32 287.05 L467.2 287.1" fill="none" stroke="#ff0000" stroke-width="2.7" stroke-linejoin="round" stroke-dasharray="11.77 2.35" stroke-dashoffset="0"/>
<path clip-path="url(#cp_f)" d="M372.8 286.2 L373.37 286.2 L373.93 286.19 L374.48 286.19 L375.03 286.18 L375.57 286.17 L376.11 286.15 L376.64 286.14 L377.17 286.12 L377.69 286.1 L378.2 286.08 L378.71 286.06 L379.21 286.04 L379.7 286.01 L380.19 285.99 L380.67 285.96 L381.13 285.92 L381.58 285.87 L382.03 285.81 L382.47 285.75 L382.91 285.68 L383.35 285.6 L383.8 285.52 L384.25 285.43 L384.71 285.34 L385.18 285.24 L385.67 285.14 L386.17 285.02 L386.68 284.88 L387.2 284.72 L387.73 284.55 L388.26 284.36 L388.8 284.16 L389.34 283.94 L389.88 283.72 L390.42 283.48 L390.96 283.24 L391.5 282.99 L392.04 282.73 L392.57 282.47 L393.09 282.2 L393.62 281.93 L394.16 281.64 L394.71 281.33 L395.26 281 L395.81 280.66 L396.37 280.31 L396.92 279.94 L397.47 279.56 L398.01 279.17 L398.54 278.77 L399.06 278.35 L399.56 277.93 L400.04 277.5 L400.5 277.07 L400.94 276.62 L401.35 276.18 L401.73 275.72 L402.1 275.25 L402.46 274.77 L402.81 274.26 L403.15 273.75 L403.48 273.22 L403.8 272.68 L404.11 272.12 L404.41 271.56 L404.7 270.98 L404.99 270.39 L405.27 269.79 L405.54 269.18 L405.8 268.57 L406.06 267.94 L406.31 267.31 L406.55 266.66 L406.79 266.01 L407.02 265.33 L407.26 264.63 L407.48 263.91 L407.71 263.18 L407.92 262.43 L408.14 261.67 L408.35 260.9 L408.55 260.12 L408.75 259.33 L408.95 258.54 L409.14 257.74 L409.33 256.94 L409.51 256.14 L409.69 255.34 L409.86 254.54 L410.03 253.74 L410.19 252.96 L410.35 252.18 L410.5 251.41 L410.65 250.64 L410.79 249.88 L410.92 249.12 L411.06 248.36 L411.18 247.6 L411.31 246.84 L411.43 246.08 L411.55 245.32 L411.66 244.56 L411.78 243.8 L411.89 243.04 L412 242.27 L412.11 241.5 L412.22 240.73 L412.33 239.96 L412.44 239.18 L412.56 238.39 L412.67 237.61 L412.78 236.81 L412.9 236.01 L413.02 235.2 L413.14 234.36 L413.25 233.5 L413.38 232.62 L413.5 231.72 L413.62 230.82 L413.74 229.91 L413.86 228.99 L413.98 228.07 L414.1 227.16 L414.22 226.25 L414.34 225.35 L414.45 224.46 L414.57 223.59 L414.68 222.74 L414.8 221.91 L414.91 221.1 L415.01 220.32 L415.12 219.58 L415.22 218.87 L415.32 218.2 L415.42 217.58 L415.51 216.96 L415.61 216.35 L415.69 215.75 L415.78 215.16 L415.87 214.59 L415.95 214.04 L416.03 213.51 L416.12 213.02 L416.2 212.56 L416.28 212.13 L416.36 211.76 L416.44 211.43 L416.52 211.15 L416.6 210.89 L416.68 210.63 L416.76 210.41 L416.83 210.26 L416.9 210.2 L416.95 210.25 L417 210.42 L417.05 210.68 L417.1 211.03 L417.14 211.43 L417.18 211.89 L417.22 212.39 L417.25 212.9 L417.28 213.41 L417.31 213.91 L417.33 214.48 L417.36 215.12 L417.38 215.83 L417.39 216.6 L417.41 217.42 L417.43 218.29 L417.44 219.21 L417.46 220.17 L417.47 221.17 L417.48 222.19 L417.5 223.23 L417.51 224.29 L417.52 225.37 L417.54 226.45 L417.55 227.53 L417.56 228.6 L417.58 229.67 L417.59 230.72 L417.61 231.75 L417.63 232.76 L417.65 233.73 L417.67 234.66 L417.69 235.56 L417.71 236.4 L417.74 237.23 L417.77 238.05 L417.8 238.86 L417.84 239.65 L417.88 240.44 L417.92 241.22 L417.96 241.99 L418 242.76 L418.05 243.52 L418.09 244.27 L418.14 245.03 L418.18 245.78 L418.23 246.53 L418.27 247.28 L418.32 248.03 L418.36 248.79 L418.4 249.54 L418.44 250.31 L418.48 251.07 L418.52 251.85 L418.56 252.61 L418.6 253.38 L418.63 254.14 L418.67 254.9 L418.7 255.65 L418.74 256.41 L418.77 257.16 L418.81 257.92 L418.84 258.68 L418.88 259.44 L418.91 260.2 L418.95 260.97 L418.98 261.74 L419.02 262.52 L419.05 263.3 L419.09 264.1 L419.12 264.9 L419.15 265.71 L419.19 266.53 L419.22 267.38 L419.26 268.31 L419.29 269.31 L419.33 270.38 L419.36 271.49 L419.4 272.64 L419.43 273.82 L419.47 275.02 L419.5 276.22 L419.54 277.42 L419.57 278.6 L419.6 279.76 L419.64 280.88 L419.67 281.96 L419.71 282.97 L419.74 283.92 L419.78 284.78 L419.81 285.56 L419.84 286.23 L419.88 286.79 L419.91 287.22 L419.95 287.52 L419.98 287.68 L420.02 287.68 L420.05 287.52 L420.09 287.22 L420.12 286.79 L420.16 286.23 L420.19 285.56 L420.22 284.78 L420.26 283.92 L420.29 282.97 L420.33 281.96 L420.36 280.88 L420.4 279.76 L420.43 278.6 L420.46 277.42 L420.5 276.22 L420.53 275.02 L420.57 273.82 L420.6 272.64 L420.64 271.49 L420.67 270.38 L420.71 269.31 L420.74 268.31 L420.78 267.38 L420.81 266.53 L420.85 265.71 L420.88 264.9 L420.91 264.1 L420.95 263.3 L420.98 262.52 L421.02 261.74 L421.05 260.97 L421.09 260.2 L421.12 259.44 L421.16 258.68 L421.19 257.92 L421.23 257.16 L421.26 256.41 L421.3 255.65 L421.33 254.9 L421.37 254.14 L421.4 253.38 L421.44 252.61 L421.48 251.85 L421.52 251.07 L421.56 250.31 L421.6 249.54 L421.64 248.79 L421.68 248.03 L421.73 247.28 L421.77 246.53 L421.82 245.78 L421.86 245.03 L421.91 244.27 L421.95 243.52 L422 242.76 L422.04 241.99 L422.08 241.22 L422.12 240.44 L422.16 239.65 L422.2 238.86 L422.23 238.05 L422.26 237.23 L422.29 236.4 L422.31 235.56 L422.33 234.66 L422.35 233.73 L422.37 232.76 L422.39 231.75 L422.41 230.72 L422.42 229.67 L422.44 228.6 L422.45 227.53 L422.46 226.45 L422.48 225.37 L422.49 224.29 L422.5 223.23 L422.52 222.19 L422.53 221.17 L422.54 220.17 L422.56 219.21 L422.57 218.29 L422.59 217.42 L422.61 216.6 L422.62 215.83 L422.64 215.12 L422.67 214.48 L422.69 213.91 L422.72 213.41 L422.75 212.9 L422.78 212.39 L422.82 211.89 L422.86 211.43 L422.9 211.03 L422.95 210.68 L423 210.42 L423.05 210.25 L423.1 210.2 L423.17 210.26 L423.24 210.41 L423.32 210.63 L423.4 210.89 L423.48 211.15 L423.56 211.43 L423.64 211.76 L423.72 212.13 L423.8 212.56 L423.88 213.02 L423.97 213.51 L424.05 214.04 L424.13 214.59 L424.22 215.16 L424.31 215.75 L424.39 216.35 L424.49 216.96 L424.58 217.58 L424.68 218.2 L424.78 218.87 L424.88 219.58 L424.99 220.32 L425.09 221.1 L425.2 221.91 L425.32 222.74 L425.43 223.59 L425.55 224.46 L425.66 225.35 L425.78 226.25 L425.9 227.16 L426.02 228.07 L426.14 228.99 L426.26 229.91 L426.38 230.82 L426.5 231.72 L426.62 232.62 L426.75 233.5 L426.86 234.36 L426.98 235.2 L427.1 236.01 L427.22 236.81 L427.33 237.61 L427.44 238.39 L427.56 239.18 L427.67 239.96 L427.78 240.73 L427.89 241.5 L428 242.27 L428.11 243.04 L428.22 243.8 L428.34 244.56 L428.45 245.32 L428.57 246.08 L428.69 246.84 L428.82 247.6 L428.94 248.36 L429.08 249.12 L429.21 249.88 L429.35 250.64 L429.5 251.41 L429.65 252.18 L429.81 252.96 L429.97 253.74 L430.14 254.54 L430.31 255.34 L430.49 256.14 L430.67 256.94 L430.86 257.74 L431.05 258.54 L431.25 259.33 L431.45 260.12 L431.65 260.9 L431.86 261.67 L432.08 262.43 L432.29 263.18 L432.52 263.91 L432.74 264.63 L432.98 265.33 L433.21 266.01 L433.45 266.66 L433.69 267.31 L433.94 267.94 L434.2 268.57 L434.46 269.18 L434.73 269.79 L435.01 270.39 L435.3 270.98 L435.59 271.56 L435.89 272.12 L436.2 272.68 L436.52 273.22 L436.85 273.75 L437.19 274.26 L437.54 274.77 L437.9 275.25 L438.27 275.72 L438.65 276.18 L439.06 276.62 L439.5 277.07 L439.96 277.5 L440.44 277.93 L440.94 278.35 L441.46 278.77 L441.99 279.17 L442.53 279.56 L443.08 279.94 L443.63 280.31 L444.19 280.66 L444.74 281 L445.29 281.33 L445.84 281.64 L446.38 281.93 L446.91 282.2 L447.43 282.47 L447.96 282.73 L448.5 282.99 L449.04 283.24 L449.58 283.48 L450.12 283.72 L450.66 283.94 L451.2 284.16 L451.74 284.36 L452.27 284.55 L452.8 284.72 L453.32 284.88 L453.83 285.02 L454.33 285.14 L454.82 285.24 L455.29 285.34 L455.75 285.43 L456.2 285.52 L456.65 285.6 L457.09 285.68 L457.53 285.75 L457.97 285.81 L458.42 285.87 L458.87 285.92 L459.33 285.96 L459.81 285.99 L460.3 286.01 L460.79 286.04 L461.29 286.06 L461.8 286.08 L462.31 286.1 L462.83 286.12 L463.36 286.14 L463.89 286.15 L464.43 286.17 L464.97 286.18 L465.52 286.19 L466.07 286.19 L466.63 286.2 L467.2 286.2" fill="none" stroke="#0000ff" stroke-width="2.7" stroke-linejoin="round" stroke-dasharray="4.8 2.26" stroke-dashoffset="0"/>
<path clip-path="url(#cp_h)" d="M516.9 288.8 L517.62 288.79 L518.33 288.77 L519.03 288.74 L519.73 288.71 L520.41 288.68 L521.09 288.64 L521.77 288.59 L522.43 288.55 L523.09 288.49 L523.74 288.44 L524.39 288.38 L525.02 288.32 L525.65 288.26 L526.27 288.2 L526.89 288.14 L527.5 288.06 L528.1 287.97 L528.7 287.88 L529.29 287.78 L529.87 287.67 L530.45 287.56 L531.01 287.44 L531.57 287.32 L532.11 287.19 L532.65 287.06 L533.17 286.93 L533.68 286.8 L534.17 286.66 L534.65 286.52 L535.12 286.37 L535.59 286.22 L536.04 286.05 L536.5 285.88 L536.94 285.7 L537.39 285.52 L537.84 285.32 L538.29 285.11 L538.74 284.9 L539.2 284.67 L539.66 284.42 L540.11 284.17 L540.56 283.9 L541 283.61 L541.44 283.32 L541.86 283 L542.26 282.68 L542.65 282.34 L543.02 281.98 L543.39 281.58 L543.74 281.16 L544.08 280.71 L544.42 280.23 L544.74 279.73 L545.06 279.21 L545.38 278.68 L545.68 278.13 L545.98 277.58 L546.28 277.02 L546.57 276.46 L546.85 275.9 L547.13 275.33 L547.41 274.76 L547.68 274.17 L547.95 273.57 L548.21 272.96 L548.47 272.34 L548.72 271.71 L548.97 271.06 L549.22 270.41 L549.46 269.74 L549.69 269.06 L549.92 268.37 L550.14 267.67 L550.36 266.95 L550.57 266.22 L550.78 265.46 L550.99 264.68 L551.19 263.88 L551.39 263.06 L551.59 262.22 L551.79 261.37 L551.99 260.51 L552.17 259.64 L552.36 258.76 L552.54 257.87 L552.72 256.99 L552.89 256.1 L553.05 255.21 L553.21 254.32 L553.36 253.45 L553.51 252.57 L553.65 251.71 L553.78 250.86 L553.91 250.02 L554.03 249.18 L554.15 248.35 L554.26 247.52 L554.37 246.69 L554.48 245.86 L554.58 245.03 L554.68 244.2 L554.78 243.36 L554.88 242.52 L554.97 241.67 L555.07 240.82 L555.16 239.95 L555.26 239.07 L555.36 238.18 L555.46 237.28 L555.56 236.37 L555.66 235.43 L555.77 234.47 L555.87 233.48 L555.97 232.47 L556.08 231.45 L556.18 230.4 L556.29 229.34 L556.39 228.27 L556.5 227.19 L556.6 226.11 L556.7 225.03 L556.81 223.94 L556.91 222.86 L557.01 221.79 L557.11 220.72 L557.21 219.67 L557.31 218.63 L557.41 217.61 L557.51 216.61 L557.6 215.63 L557.7 214.68 L557.79 213.75 L557.89 212.84 L557.98 211.91 L558.07 210.97 L558.16 210.02 L558.25 209.08 L558.34 208.14 L558.43 207.22 L558.51 206.31 L558.6 205.42 L558.69 204.56 L558.77 203.74 L558.86 202.95 L558.94 202.21 L559.03 201.52 L559.11 200.89 L559.2 200.31 L559.28 199.81 L559.36 199.34 L559.45 198.87 L559.53 198.41 L559.62 197.99 L559.7 197.64 L559.78 197.37 L559.86 197.22 L559.93 197.21 L560.01 197.34 L560.08 197.6 L560.15 197.96 L560.22 198.39 L560.29 198.9 L560.36 199.44 L560.43 200.02 L560.49 200.59 L560.55 201.2 L560.61 201.91 L560.67 202.73 L560.73 203.65 L560.78 204.66 L560.84 205.75 L560.9 206.93 L560.95 208.17 L561.01 209.47 L561.06 210.83 L561.12 212.24 L561.17 213.69 L561.22 215.17 L561.27 216.68 L561.32 218.21 L561.37 219.75 L561.42 221.3 L561.47 222.85 L561.52 224.39 L561.57 225.91 L561.61 227.41 L561.66 228.88 L561.71 230.32 L561.75 231.71 L561.8 233.05 L561.84 234.33 L561.88 235.54 L561.93 236.69 L561.97 237.83 L562.01 238.95 L562.04 240.06 L562.08 241.16 L562.12 242.24 L562.16 243.31 L562.19 244.38 L562.23 245.43 L562.26 246.47 L562.29 247.51 L562.33 248.54 L562.36 249.56 L562.4 250.57 L562.43 251.58 L562.47 252.58 L562.5 253.57 L562.54 254.56 L562.57 255.55 L562.61 256.54 L562.65 257.52 L562.69 258.5 L562.73 259.48 L562.78 260.46 L562.82 261.43 L562.86 262.4 L562.91 263.37 L562.95 264.34 L563 265.3 L563.05 266.25 L563.1 267.2 L563.14 268.14 L563.19 269.07 L563.24 270 L563.29 270.91 L563.34 271.82 L563.38 272.71 L563.43 273.59 L563.48 274.47 L563.53 275.33 L563.57 276.17 L563.62 277.01 L563.66 277.9 L563.71 278.84 L563.75 279.83 L563.8 280.83 L563.84 281.84 L563.88 282.84 L563.93 283.81 L563.97 284.74 L564.01 285.61 L564.06 286.41 L564.1 287.11 L564.15 287.71 L564.19 288.18 L564.23 288.51 L564.28 288.68 L564.32 288.68 L564.37 288.51 L564.41 288.18 L564.45 287.71 L564.5 287.11 L564.54 286.41 L564.59 285.61 L564.63 284.74 L564.67 283.81 L564.72 282.84 L564.76 281.84 L564.8 280.83 L564.85 279.83 L564.89 278.84 L564.94 277.9 L564.98 277.01 L565.03 276.17 L565.07 275.33 L565.12 274.47 L565.17 273.59 L565.22 272.71 L565.26 271.82 L565.31 270.91 L565.36 270 L565.41 269.07 L565.46 268.14 L565.5 267.2 L565.55 266.25 L565.6 265.3 L565.65 264.34 L565.69 263.37 L565.74 262.4 L565.78 261.43 L565.82 260.46 L565.87 259.48 L565.91 258.5 L565.95 257.52 L565.99 256.54 L566.03 255.55 L566.06 254.56 L566.1 253.57 L566.13 252.58 L566.17 251.58 L566.2 250.57 L566.24 249.56 L566.27 248.54 L566.31 247.51 L566.34 246.47 L566.37 245.43 L566.41 244.38 L566.44 243.31 L566.48 242.24 L566.52 241.16 L566.56 240.06 L566.59 238.95 L566.63 237.83 L566.67 236.69 L566.72 235.54 L566.76 234.33 L566.8 233.05 L566.85 231.71 L566.89 230.32 L566.94 228.88 L566.99 227.41 L567.03 225.91 L567.08 224.39 L567.13 222.85 L567.18 221.3 L567.23 219.75 L567.28 218.21 L567.33 216.68 L567.38 215.17 L567.43 213.69 L567.48 212.24 L567.54 210.83 L567.59 209.47 L567.65 208.17 L567.7 206.93 L567.76 205.75 L567.82 204.66 L567.87 203.65 L567.93 202.73 L567.99 201.91 L568.05 201.2 L568.11 200.59 L568.17 200.02 L568.24 199.44 L568.31 198.9 L568.38 198.39 L568.45 197.96 L568.52 197.6 L568.59 197.34 L568.67 197.21 L568.74 197.22 L568.82 197.37 L568.9 197.64 L568.98 197.99 L569.07 198.41 L569.15 198.87 L569.24 199.34 L569.32 199.81 L569.4 200.31 L569.49 200.89 L569.57 201.52 L569.66 202.21 L569.74 202.95 L569.83 203.74 L569.91 204.56 L570 205.42 L570.09 206.31 L570.17 207.22 L570.26 208.14 L570.35 209.08 L570.44 210.02 L570.53 210.97 L570.62 211.91 L570.71 212.84 L570.81 213.75 L570.9 214.68 L571 215.63 L571.09 216.61 L571.19 217.61 L571.29 218.63 L571.39 219.67 L571.49 220.72 L571.59 221.79 L571.69 222.86 L571.79 223.94 L571.9 225.03 L572 226.11 L572.1 227.19 L572.21 228.27 L572.31 229.34 L572.42 230.4 L572.52 231.45 L572.63 232.47 L572.73 233.48 L572.83 234.47 L572.94 235.43 L573.04 236.37 L573.14 237.28 L573.24 238.18 L573.34 239.07 L573.44 239.95 L573.53 240.82 L573.63 241.67 L573.72 242.52 L573.82 243.36 L573.92 244.2 L574.02 245.03 L574.12 245.86 L574.23 246.69 L574.34 247.52 L574.45 248.35 L574.57 249.18 L574.69 250.02 L574.82 250.86 L574.95 251.71 L575.09 252.57 L575.24 253.45 L575.39 254.32 L575.55 255.21 L575.71 256.1 L575.88 256.99 L576.06 257.87 L576.24 258.76 L576.43 259.64 L576.61 260.51 L576.81 261.37 L577.01 262.22 L577.21 263.06 L577.41 263.88 L577.61 264.68 L577.82 265.46 L578.03 266.22 L578.24 266.95 L578.46 267.67 L578.68 268.37 L578.91 269.06 L579.14 269.74 L579.38 270.41 L579.63 271.06 L579.88 271.71 L580.13 272.34 L580.39 272.96 L580.65 273.57 L580.92 274.17 L581.19 274.76 L581.47 275.33 L581.75 275.9 L582.03 276.46 L582.32 277.02 L582.62 277.58 L582.92 278.13 L583.22 278.68 L583.54 279.21 L583.86 279.73 L584.18 280.23 L584.52 280.71 L584.86 281.16 L585.21 281.58 L585.58 281.98 L585.95 282.34 L586.34 282.68 L586.74 283 L587.16 283.32 L587.6 283.61 L588.04 283.9 L588.49 284.17 L588.94 284.42 L589.4 284.67 L589.86 284.9 L590.31 285.11 L590.76 285.32 L591.21 285.52 L591.66 285.7 L592.1 285.88 L592.56 286.05 L593.01 286.22 L593.48 286.37 L593.95 286.52 L594.43 286.66 L594.92 286.8 L595.43 286.93 L595.95 287.06 L596.49 287.19 L597.03 287.32 L597.59 287.44 L598.15 287.56 L598.73 287.67 L599.31 287.78 L599.9 287.88 L600.5 287.97 L601.1 288.06 L601.71 288.14 L602.33 288.2 L602.95 288.26 L603.58 288.32 L604.21 288.38 L604.86 288.44 L605.51 288.49 L606.17 288.55 L606.83 288.59 L607.51 288.64 L608.19 288.68 L608.87 288.71 L609.57 288.74 L610.27 288.77 L610.98 288.79 L611.7 288.8" fill="none" stroke="#ff0000" stroke-width="2.7" stroke-linejoin="round" stroke-dasharray="11.85 2.37" stroke-dashoffset="0"/>
<path clip-path="url(#cp_h)" d="M567.2 201L568.5 190.6L570 201Z" fill="#ff0000"/>
<path clip-path="url(#cp_h)" d="M516.9 288.8 L517.62 288.79 L518.33 288.77 L519.03 288.74 L519.73 288.71 L520.41 288.68 L521.09 288.64 L521.77 288.59 L522.43 288.55 L523.09 288.49 L523.74 288.44 L524.39 288.38 L525.02 288.32 L525.65 288.26 L526.27 288.2 L526.89 288.14 L527.5 288.06 L528.1 287.97 L528.7 287.88 L529.29 287.78 L529.87 287.67 L530.45 287.56 L531.01 287.44 L531.57 287.32 L532.11 287.19 L532.65 287.06 L533.17 286.93 L533.68 286.8 L534.17 286.66 L534.65 286.52 L535.12 286.37 L535.59 286.22 L536.04 286.05 L536.5 285.88 L536.94 285.7 L537.39 285.52 L537.84 285.32 L538.29 285.11 L538.74 284.9 L539.2 284.67 L539.66 284.42 L540.11 284.17 L540.56 283.9 L541 283.61 L541.44 283.32 L541.86 283 L542.26 282.68 L542.65 282.34 L543.02 281.98 L543.39 281.58 L543.74 281.16 L544.08 280.71 L544.42 280.23 L544.74 279.73 L545.06 279.21 L545.38 278.68 L545.68 278.13 L545.98 277.58 L546.28 277.02 L546.57 276.46 L546.85 275.9 L547.13 275.33 L547.41 274.76 L547.68 274.17 L547.95 273.57 L548.21 272.96 L548.47 272.34 L548.72 271.71 L548.97 271.06 L549.22 270.41 L549.46 269.74 L549.69 269.06 L549.92 268.37 L550.14 267.67 L550.36 266.95 L550.57 266.22 L550.78 265.46 L550.99 264.68 L551.19 263.88 L551.39 263.06 L551.59 262.22 L551.79 261.37 L551.99 260.51 L552.17 259.64 L552.36 258.76 L552.54 257.87 L552.72 256.99 L552.89 256.1 L553.05 255.21 L553.21 254.32 L553.36 253.45 L553.51 252.57 L553.65 251.71 L553.78 250.86 L553.91 250.02 L554.03 249.18 L554.15 248.35 L554.26 247.52 L554.37 246.69 L554.48 245.86 L554.58 245.03 L554.68 244.2 L554.78 243.36 L554.88 242.52 L554.97 241.67 L555.07 240.82 L555.16 239.95 L555.26 239.07 L555.36 238.18 L555.46 237.28 L555.56 236.37 L555.66 235.43 L555.77 234.47 L555.87 233.48 L555.97 232.47 L556.08 231.45 L556.18 230.4 L556.29 229.34 L556.39 228.27 L556.5 227.19 L556.6 226.11 L556.7 225.03 L556.81 223.94 L556.91 222.86 L557.01 221.79 L557.11 220.72 L557.21 219.67 L557.31 218.63 L557.41 217.61 L557.51 216.61 L557.6 215.63 L557.7 214.68 L557.79 213.75 L557.89 212.84 L557.98 211.91 L558.07 210.97 L558.16 210.02 L558.25 209.08 L558.34 208.14 L558.43 207.22 L558.51 206.31 L558.6 205.42 L558.69 204.56 L558.77 203.74 L558.86 202.95 L558.94 202.21 L559.03 201.52 L559.11 200.89 L559.2 200.31 L559.28 199.81 L559.36 199.34 L559.45 198.87 L559.53 198.41 L559.62 197.99 L559.7 197.64 L559.78 197.37 L559.86 197.22 L559.93 197.21 L560.01 197.34 L560.08 197.6 L560.15 197.96 L560.22 198.39 L560.29 198.9 L560.36 199.44 L560.43 200.02 L560.49 200.59 L560.55 201.2 L560.61 201.91 L560.67 202.73 L560.73 203.65 L560.78 204.66 L560.84 205.75 L560.9 206.93 L560.95 208.17 L561.01 209.47 L561.06 210.83 L561.12 212.24 L561.17 213.69 L561.22 215.17 L561.27 216.68 L561.32 218.21 L561.37 219.75 L561.42 221.3 L561.47 222.85 L561.52 224.39 L561.57 225.91 L561.61 227.41 L561.66 228.88 L561.71 230.32 L561.75 231.71 L561.8 233.05 L561.84 234.33 L561.88 235.54 L561.93 236.69 L561.97 237.83 L562.01 238.95 L562.04 240.06 L562.08 241.16 L562.12 242.24 L562.16 243.31 L562.19 244.38 L562.23 245.43 L562.26 246.47 L562.29 247.51 L562.33 248.54 L562.36 249.56 L562.4 250.57 L562.43 251.58 L562.47 252.58 L562.5 253.57 L562.54 254.56 L562.57 255.55 L562.61 256.54 L562.65 257.52 L562.69 258.5 L562.73 259.48 L562.78 260.46 L562.82 261.43 L562.86 262.4 L562.91 263.37 L562.95 264.34 L563 265.3 L563.05 266.25 L563.1 267.2 L563.14 268.14 L563.19 269.07 L563.24 270 L563.29 270.91 L563.34 271.82 L563.38 272.71 L563.43 273.59 L563.48 274.47 L563.53 275.33 L563.57 276.17 L563.62 277.01 L563.66 277.9 L563.71 278.84 L563.75 279.83 L563.8 280.83 L563.84 281.84 L563.88 282.84 L563.93 283.81 L563.97 284.74 L564.01 285.61 L564.06 286.41 L564.1 287.11 L564.15 287.71 L564.19 288.18 L564.23 288.51 L564.28 288.68 L564.32 288.68 L564.37 288.51 L564.41 288.18 L564.45 287.71 L564.5 287.11 L564.54 286.41 L564.59 285.61 L564.63 284.74 L564.67 283.81 L564.72 282.84 L564.76 281.84 L564.8 280.83 L564.85 279.83 L564.89 278.84 L564.94 277.9 L564.98 277.01 L565.03 276.17 L565.07 275.33 L565.12 274.47 L565.17 273.59 L565.22 272.71 L565.26 271.82 L565.31 270.91 L565.36 270 L565.41 269.07 L565.46 268.14 L565.5 267.2 L565.55 266.25 L565.6 265.3 L565.65 264.34 L565.69 263.37 L565.74 262.4 L565.78 261.43 L565.82 260.46 L565.87 259.48 L565.91 258.5 L565.95 257.52 L565.99 256.54 L566.03 255.55 L566.06 254.56 L566.1 253.57 L566.13 252.58 L566.17 251.58 L566.2 250.57 L566.24 249.56 L566.27 248.54 L566.31 247.51 L566.34 246.47 L566.37 245.43 L566.41 244.38 L566.44 243.31 L566.48 242.24 L566.52 241.16 L566.56 240.06 L566.59 238.95 L566.63 237.83 L566.67 236.69 L566.72 235.54 L566.76 234.33 L566.8 233.05 L566.85 231.71 L566.89 230.32 L566.94 228.88 L566.99 227.41 L567.03 225.91 L567.08 224.39 L567.13 222.85 L567.18 221.3 L567.23 219.75 L567.28 218.21 L567.33 216.68 L567.38 215.17 L567.43 213.69 L567.48 212.24 L567.54 210.83 L567.59 209.47 L567.65 208.17 L567.7 206.93 L567.76 205.75 L567.82 204.66 L567.87 203.65 L567.93 202.73 L567.99 201.91 L568.05 201.2 L568.11 200.59 L568.17 200.02 L568.24 199.44 L568.31 198.9 L568.38 198.39 L568.45 197.96 L568.52 197.6 L568.59 197.34 L568.67 197.21 L568.74 197.22 L568.82 197.37 L568.9 197.64 L568.98 197.99 L569.07 198.41 L569.15 198.87 L569.24 199.34 L569.32 199.81 L569.4 200.31 L569.49 200.89 L569.57 201.52 L569.66 202.21 L569.74 202.95 L569.83 203.74 L569.91 204.56 L570 205.42 L570.09 206.31 L570.17 207.22 L570.26 208.14 L570.35 209.08 L570.44 210.02 L570.53 210.97 L570.62 211.91 L570.71 212.84 L570.81 213.75 L570.9 214.68 L571 215.63 L571.09 216.61 L571.19 217.61 L571.29 218.63 L571.39 219.67 L571.49 220.72 L571.59 221.79 L571.69 222.86 L571.79 223.94 L571.9 225.03 L572 226.11 L572.1 227.19 L572.21 228.27 L572.31 229.34 L572.42 230.4 L572.52 231.45 L572.63 232.47 L572.73 233.48 L572.83 234.47 L572.94 235.43 L573.04 236.37 L573.14 237.28 L573.24 238.18 L573.34 239.07 L573.44 239.95 L573.53 240.82 L573.63 241.67 L573.72 242.52 L573.82 243.36 L573.92 244.2 L574.02 245.03 L574.12 245.86 L574.23 246.69 L574.34 247.52 L574.45 248.35 L574.57 249.18 L574.69 250.02 L574.82 250.86 L574.95 251.71 L575.09 252.57 L575.24 253.45 L575.39 254.32 L575.55 255.21 L575.71 256.1 L575.88 256.99 L576.06 257.87 L576.24 258.76 L576.43 259.64 L576.61 260.51 L576.81 261.37 L577.01 262.22 L577.21 263.06 L577.41 263.88 L577.61 264.68 L577.82 265.46 L578.03 266.22 L578.24 266.95 L578.46 267.67 L578.68 268.37 L578.91 269.06 L579.14 269.74 L579.38 270.41 L579.63 271.06 L579.88 271.71 L580.13 272.34 L580.39 272.96 L580.65 273.57 L580.92 274.17 L581.19 274.76 L581.47 275.33 L581.75 275.9 L582.03 276.46 L582.32 277.02 L582.62 277.58 L582.92 278.13 L583.22 278.68 L583.54 279.21 L583.86 279.73 L584.18 280.23 L584.52 280.71 L584.86 281.16 L585.21 281.58 L585.58 281.98 L585.95 282.34 L586.34 282.68 L586.74 283 L587.16 283.32 L587.6 283.61 L588.04 283.9 L588.49 284.17 L588.94 284.42 L589.4 284.67 L589.86 284.9 L590.31 285.11 L590.76 285.32 L591.21 285.52 L591.66 285.7 L592.1 285.88 L592.56 286.05 L593.01 286.22 L593.48 286.37 L593.95 286.52 L594.43 286.66 L594.92 286.8 L595.43 286.93 L595.95 287.06 L596.49 287.19 L597.03 287.32 L597.59 287.44 L598.15 287.56 L598.73 287.67 L599.31 287.78 L599.9 287.88 L600.5 287.97 L601.1 288.06 L601.71 288.14 L602.33 288.2 L602.95 288.26 L603.58 288.32 L604.21 288.38 L604.86 288.44 L605.51 288.49 L606.17 288.55 L606.83 288.59 L607.51 288.64 L608.19 288.68 L608.87 288.71 L609.57 288.74 L610.27 288.77 L610.98 288.79 L611.7 288.8" fill="none" stroke="#0000ff" stroke-width="2.7" stroke-linejoin="round" stroke-dasharray="4.83 2.28" stroke-dashoffset="0"/>
<path d="M84.2 129.55v-3.2M84.2 28.85v3.2M93.68 129.55v-1.85M93.68 28.85v1.85M103.16 129.55v-1.85M103.16 28.85v1.85M112.64 129.55v-1.85M112.64 28.85v1.85M122.12 129.55v-1.85M122.12 28.85v1.85M131.6 129.55v-3.2M131.6 28.85v3.2M141.08 129.55v-1.85M141.08 28.85v1.85M150.56 129.55v-1.85M150.56 28.85v1.85M160.04 129.55v-1.85M160.04 28.85v1.85M169.52 129.55v-1.85M169.52 28.85v1.85M179 129.55v-3.2M179 28.85v3.2M84.2 129.55h3.2M179 129.55h-3.2M84.2 126.67h1.85M179 126.67h-1.85M84.2 123.8h1.85M179 123.8h-1.85M84.2 120.92h1.85M179 120.92h-1.85M84.2 118.04h1.85M179 118.04h-1.85M84.2 115.16h3.2M179 115.16h-3.2M84.2 112.29h1.85M179 112.29h-1.85M84.2 109.41h1.85M179 109.41h-1.85M84.2 106.53h1.85M179 106.53h-1.85M84.2 103.66h1.85M179 103.66h-1.85M84.2 100.78h3.2M179 100.78h-3.2M84.2 97.9h1.85M179 97.9h-1.85M84.2 95.02h1.85M179 95.02h-1.85M84.2 92.15h1.85M179 92.15h-1.85M84.2 89.27h1.85M179 89.27h-1.85M84.2 86.39h3.2M179 86.39h-3.2M84.2 83.52h1.85M179 83.52h-1.85M84.2 80.64h1.85M179 80.64h-1.85M84.2 77.76h1.85M179 77.76h-1.85M84.2 74.88h1.85M179 74.88h-1.85M84.2 72.01h3.2M179 72.01h-3.2M84.2 69.13h1.85M179 69.13h-1.85M84.2 66.25h1.85M179 66.25h-1.85M84.2 63.38h1.85M179 63.38h-1.85M84.2 60.5h1.85M179 60.5h-1.85M84.2 57.62h3.2M179 57.62h-3.2M84.2 54.74h1.85M179 54.74h-1.85M84.2 51.87h1.85M179 51.87h-1.85M84.2 48.99h1.85M179 48.99h-1.85M84.2 46.11h1.85M179 46.11h-1.85M84.2 43.24h3.2M179 43.24h-3.2M84.2 40.36h1.85M179 40.36h-1.85M84.2 37.48h1.85M179 37.48h-1.85M84.2 34.6h1.85M179 34.6h-1.85M84.2 31.73h1.85M179 31.73h-1.85M84.2 28.85h3.2M179 28.85h-3.2" stroke="#000" stroke-width="1.3" fill="none"/>
<rect x="84.2" y="28.85" width="94.8" height="100.7" fill="none" stroke="#000" stroke-width="1.7"/>
<text class="t" transform="translate(73.6 148.15) scale(1.27 1)">−</text>
<text class="t" x="82.68" y="148.15">50</text>
<text class="t" x="129.04" y="148.15">0</text>
<text class="t" x="173.23" y="148.15">50</text>
<text class="t" transform="translate(28.66 133.7) scale(1.27 1)">−</text>
<text class="t" x="37.74" y="133.7">100,000</text>
<text class="t" transform="translate(35.08 119.31) scale(1.27 1)">−</text>
<text class="t" x="44.16" y="119.31">80,000</text>
<text class="t" transform="translate(35.08 104.93) scale(1.27 1)">−</text>
<text class="t" x="44.16" y="104.93">60,000</text>
<text class="t" transform="translate(35.08 90.54) scale(1.27 1)">−</text>
<text class="t" x="44.16" y="90.54">40,000</text>
<text class="t" transform="translate(35.08 76.16) scale(1.27 1)">−</text>
<text class="t" x="44.16" y="76.16">20,000</text>
<text class="t" x="73.18" y="61.77">0</text>
<text class="t" x="44.16" y="47.39">20,000</text>
<text class="t" x="44.16" y="33">40,000</text>
<text class="l" x="129.7" y="168.55" text-anchor="middle">u(Å)</text>
<path d="M228.1 129.6v-3.2M228.1 28.8v3.2M237.65 129.6v-1.85M237.65 28.8v1.85M247.2 129.6v-1.85M247.2 28.8v1.85M256.75 129.6v-1.85M256.75 28.8v1.85M266.3 129.6v-1.85M266.3 28.8v1.85M275.85 129.6v-3.2M275.85 28.8v3.2M285.4 129.6v-1.85M285.4 28.8v1.85M294.95 129.6v-1.85M294.95 28.8v1.85M304.5 129.6v-1.85M304.5 28.8v1.85M314.05 129.6v-1.85M314.05 28.8v1.85M323.6 129.6v-3.2M323.6 28.8v3.2M228.1 126.72h1.85M323.6 126.72h-1.85M228.1 120.96h1.85M323.6 120.96h-1.85M228.1 115.2h3.2M323.6 115.2h-3.2M228.1 109.44h1.85M323.6 109.44h-1.85M228.1 103.68h1.85M323.6 103.68h-1.85M228.1 97.92h1.85M323.6 97.92h-1.85M228.1 92.16h1.85M323.6 92.16h-1.85M228.1 86.4h3.2M323.6 86.4h-3.2M228.1 80.64h1.85M323.6 80.64h-1.85M228.1 74.88h1.85M323.6 74.88h-1.85M228.1 69.12h1.85M323.6 69.12h-1.85M228.1 63.36h1.85M323.6 63.36h-1.85M228.1 57.6h3.2M323.6 57.6h-3.2M228.1 51.84h1.85M323.6 51.84h-1.85M228.1 46.08h1.85M323.6 46.08h-1.85M228.1 40.32h1.85M323.6 40.32h-1.85M228.1 34.56h1.85M323.6 34.56h-1.85M228.1 28.8h3.2M323.6 28.8h-3.2" stroke="#000" stroke-width="1.3" fill="none"/>
<rect x="228.1" y="28.8" width="95.5" height="100.8" fill="none" stroke="#000" stroke-width="1.7"/>
<text class="t" transform="translate(214.29 148.2) scale(1.27 1)">−</text>
<text class="t" x="223.37" y="148.2">100</text>
<text class="t" x="273.29" y="148.2">0</text>
<text class="t" x="314.62" y="148.2">100</text>
<text class="t" transform="translate(185.39 119.35) scale(1.27 1)">−</text>
<text class="t" x="194.47" y="119.35">2,000</text>
<text class="t" transform="translate(185.39 90.55) scale(1.27 1)">−</text>
<text class="t" x="194.47" y="90.55">1,000</text>
<text class="t" x="217.08" y="61.75">0</text>
<text class="t" x="194.47" y="32.95">1,000</text>
<text class="l" x="273.95" y="168.6" text-anchor="middle">u(Å)</text>
<path d="M369 128.9v-3.2M369 28.2v3.2M378.6 128.9v-1.85M378.6 28.2v1.85M388.2 128.9v-1.85M388.2 28.2v1.85M397.8 128.9v-1.85M397.8 28.2v1.85M407.4 128.9v-1.85M407.4 28.2v1.85M417 128.9v-3.2M417 28.2v3.2M426.6 128.9v-1.85M426.6 28.2v1.85M436.2 128.9v-1.85M436.2 28.2v1.85M445.8 128.9v-1.85M445.8 28.2v1.85M455.4 128.9v-1.85M455.4 28.2v1.85M465 128.9v-3.2M465 28.2v3.2M369 128.9h3.2M465 128.9h-3.2M369 126.02h1.85M465 126.02h-1.85M369 123.15h1.85M465 123.15h-1.85M369 120.27h1.85M465 120.27h-1.85M369 117.39h1.85M465 117.39h-1.85M369 114.51h3.2M465 114.51h-3.2M369 111.64h1.85M465 111.64h-1.85M369 108.76h1.85M465 108.76h-1.85M369 105.88h1.85M465 105.88h-1.85M369 103.01h1.85M465 103.01h-1.85M369 100.13h3.2M465 100.13h-3.2M369 97.25h1.85M465 97.25h-1.85M369 94.37h1.85M465 94.37h-1.85M369 91.5h1.85M465 91.5h-1.85M369 88.62h1.85M465 88.62h-1.85M369 85.74h3.2M465 85.74h-3.2M369 82.87h1.85M465 82.87h-1.85M369 79.99h1.85M465 79.99h-1.85M369 77.11h1.85M465 77.11h-1.85M369 74.23h1.85M465 74.23h-1.85M369 71.36h3.2M465 71.36h-3.2M369 68.48h1.85M465 68.48h-1.85M369 65.6h1.85M465 65.6h-1.85M369 62.73h1.85M465 62.73h-1.85M369 59.85h1.85M465 59.85h-1.85M369 56.97h3.2M465 56.97h-3.2M369 54.09h1.85M465 54.09h-1.85M369 51.22h1.85M465 51.22h-1.85M369 48.34h1.85M465 48.34h-1.85M369 45.46h1.85M465 45.46h-1.85M369 42.59h3.2M465 42.59h-3.2M369 39.71h1.85M465 39.71h-1.85M369 36.83h1.85M465 36.83h-1.85M369 33.95h1.85M465 33.95h-1.85M369 31.08h1.85M465 31.08h-1.85M369 28.2h3.2M465 28.2h-3.2" stroke="#000" stroke-width="1.3" fill="none"/>
<rect x="369" y="28.2" width="96" height="100.7" fill="none" stroke="#000" stroke-width="1.7"/>
<text class="t" transform="translate(355.19 147.5) scale(1.27 1)">−</text>
<text class="t" x="364.27" y="147.5">500</text>
<text class="t" x="414.44" y="147.5">0</text>
<text class="t" x="456.02" y="147.5">500</text>
<text class="t" transform="translate(342.49 133.05) scale(1.27 1)">−</text>
<text class="t" x="351.56" y="133.05">30</text>
<text class="t" transform="translate(342.49 118.66) scale(1.27 1)">−</text>
<text class="t" x="351.56" y="118.66">20</text>
<text class="t" transform="translate(342.49 104.28) scale(1.27 1)">−</text>
<text class="t" x="351.56" y="104.28">10</text>
<text class="t" x="357.98" y="89.89">0</text>
<text class="t" x="351.56" y="75.51">10</text>
<text class="t" x="351.56" y="61.12">20</text>
<text class="t" x="351.56" y="46.74">30</text>
<text class="t" x="351.56" y="32.35">40</text>
<text class="l" x="415.1" y="167.9" text-anchor="middle">u(Å)</text>
<path d="M512.6 128.8v-3.2M512.6 28v3.2M522.06 128.8v-1.85M522.06 28v1.85M531.52 128.8v-1.85M531.52 28v1.85M540.98 128.8v-1.85M540.98 28v1.85M550.44 128.8v-1.85M550.44 28v1.85M559.9 128.8v-3.2M559.9 28v3.2M569.36 128.8v-1.85M569.36 28v1.85M578.82 128.8v-1.85M578.82 28v1.85M588.28 128.8v-1.85M588.28 28v1.85M597.74 128.8v-1.85M597.74 28v1.85M607.2 128.8v-3.2M607.2 28v3.2M512.6 128.8h3.2M607.2 128.8h-3.2M512.6 124.77h1.85M607.2 124.77h-1.85M512.6 120.74h1.85M607.2 120.74h-1.85M512.6 116.7h1.85M607.2 116.7h-1.85M512.6 112.67h1.85M607.2 112.67h-1.85M512.6 108.64h3.2M607.2 108.64h-3.2M512.6 104.61h1.85M607.2 104.61h-1.85M512.6 100.58h1.85M607.2 100.58h-1.85M512.6 96.54h1.85M607.2 96.54h-1.85M512.6 92.51h1.85M607.2 92.51h-1.85M512.6 88.48h3.2M607.2 88.48h-3.2M512.6 84.45h1.85M607.2 84.45h-1.85M512.6 80.42h1.85M607.2 80.42h-1.85M512.6 76.38h1.85M607.2 76.38h-1.85M512.6 72.35h1.85M607.2 72.35h-1.85M512.6 68.32h3.2M607.2 68.32h-3.2M512.6 64.29h1.85M607.2 64.29h-1.85M512.6 60.26h1.85M607.2 60.26h-1.85M512.6 56.22h1.85M607.2 56.22h-1.85M512.6 52.19h1.85M607.2 52.19h-1.85M512.6 48.16h3.2M607.2 48.16h-3.2M512.6 44.13h1.85M607.2 44.13h-1.85M512.6 40.1h1.85M607.2 40.1h-1.85M512.6 36.06h1.85M607.2 36.06h-1.85M512.6 32.03h1.85M607.2 32.03h-1.85M512.6 28h3.2M607.2 28h-3.2" stroke="#000" stroke-width="1.3" fill="none"/>
<rect x="512.6" y="28" width="94.6" height="100.8" fill="none" stroke="#000" stroke-width="1.7"/>
<text class="t" transform="translate(498.79 147.4) scale(1.27 1)">−</text>
<text class="t" x="507.87" y="147.4">500</text>
<text class="t" x="557.34" y="147.4">0</text>
<text class="t" x="598.22" y="147.4">500</text>
<text class="t" transform="translate(486.09 132.95) scale(1.27 1)">−</text>
<text class="t" x="495.16" y="132.95">15</text>
<text class="t" transform="translate(486.09 112.79) scale(1.27 1)">−</text>
<text class="t" x="495.16" y="112.79">10</text>
<text class="t" transform="translate(492.5 92.63) scale(1.27 1)">−</text>
<text class="t" x="501.58" y="92.63">5</text>
<text class="t" x="501.58" y="72.47">0</text>
<text class="t" x="501.58" y="52.31">5</text>
<text class="t" x="495.16" y="32.15">10</text>
<text class="l" x="558" y="167.8" text-anchor="middle">u(Å)</text>
<path d="M87.6 286.8v-3.2M87.6 186.6v3.2M97.04 286.8v-1.85M97.04 186.6v1.85M106.48 286.8v-1.85M106.48 186.6v1.85M115.92 286.8v-1.85M115.92 186.6v1.85M125.36 286.8v-1.85M125.36 186.6v1.85M134.8 286.8v-3.2M134.8 186.6v3.2M144.24 286.8v-1.85M144.24 186.6v1.85M153.68 286.8v-1.85M153.68 186.6v1.85M163.12 286.8v-1.85M163.12 186.6v1.85M172.56 286.8v-1.85M172.56 186.6v1.85M182 286.8v-3.2M182 186.6v3.2M87.6 286.8h3.2M182 286.8h-3.2M87.6 276.78h1.85M182 276.78h-1.85M87.6 266.76h1.85M182 266.76h-1.85M87.6 256.74h1.85M182 256.74h-1.85M87.6 246.72h1.85M182 246.72h-1.85M87.6 236.7h3.2M182 236.7h-3.2M87.6 226.68h1.85M182 226.68h-1.85M87.6 216.66h1.85M182 216.66h-1.85M87.6 206.64h1.85M182 206.64h-1.85M87.6 196.62h1.85M182 196.62h-1.85M87.6 186.6h3.2M182 186.6h-3.2" stroke="#000" stroke-width="1.3" fill="none"/>
<rect x="87.6" y="186.6" width="94.4" height="100.2" fill="none" stroke="#000" stroke-width="1.7"/>
<text class="t" transform="translate(77 305.4) scale(1.27 1)">−</text>
<text class="t" x="86.08" y="305.4">50</text>
<text class="t" x="132.24" y="305.4">0</text>
<text class="t" x="176.23" y="305.4">50</text>
<text class="t" x="76.58" y="290.95">0</text>
<text class="t" x="60.39" y="240.85">0.05</text>
<text class="t" x="66.81" y="190.75">0.1</text>
<text class="l" x="132.9" y="325.8" text-anchor="middle">u(Å)</text>
<path d="M229 287.7v-3.2M229 187.2v3.2M238.6 287.7v-1.85M238.6 187.2v1.85M248.2 287.7v-1.85M248.2 187.2v1.85M257.8 287.7v-1.85M257.8 187.2v1.85M267.4 287.7v-1.85M267.4 187.2v1.85M277 287.7v-3.2M277 187.2v3.2M286.6 287.7v-1.85M286.6 187.2v1.85M296.2 287.7v-1.85M296.2 187.2v1.85M305.8 287.7v-1.85M305.8 187.2v1.85M315.4 287.7v-1.85M315.4 187.2v1.85M325 287.7v-3.2M325 187.2v3.2M229 287.7h3.2M325 287.7h-3.2M229 281h1.85M325 281h-1.85M229 274.3h1.85M325 274.3h-1.85M229 267.6h1.85M325 267.6h-1.85M229 260.9h1.85M325 260.9h-1.85M229 254.2h3.2M325 254.2h-3.2M229 247.5h1.85M325 247.5h-1.85M229 240.8h1.85M325 240.8h-1.85M229 234.1h1.85M325 234.1h-1.85M229 227.4h1.85M325 227.4h-1.85M229 220.7h3.2M325 220.7h-3.2M229 214h1.85M325 214h-1.85M229 207.3h1.85M325 207.3h-1.85M229 200.6h1.85M325 200.6h-1.85M229 193.9h1.85M325 193.9h-1.85M229 187.2h3.2M325 187.2h-3.2" stroke="#000" stroke-width="1.3" fill="none"/>
<rect x="229" y="187.2" width="96" height="100.5" fill="none" stroke="#000" stroke-width="1.7"/>
<text class="t" transform="translate(215.19 306.3) scale(1.27 1)">−</text>
<text class="t" x="224.27" y="306.3">100</text>
<text class="t" x="274.44" y="306.3">0</text>
<text class="t" x="316.02" y="306.3">100</text>
<text class="t" x="217.98" y="291.85">0</text>
<text class="t" x="201.79" y="258.35">0.01</text>
<text class="t" x="201.79" y="224.85">0.02</text>
<text class="t" x="201.79" y="191.35">0.03</text>
<text class="l" x="275.1" y="326.7" text-anchor="middle">u(Å)</text>
<path d="M372.8 287.7v-3.2M372.8 187.2v3.2M382.22 287.7v-1.85M382.22 187.2v1.85M391.64 287.7v-1.85M391.64 187.2v1.85M401.06 287.7v-1.85M401.06 187.2v1.85M410.48 287.7v-1.85M410.48 187.2v1.85M419.9 287.7v-3.2M419.9 187.2v3.2M429.32 287.7v-1.85M429.32 187.2v1.85M438.74 287.7v-1.85M438.74 187.2v1.85M448.16 287.7v-1.85M448.16 187.2v1.85M457.58 287.7v-1.85M457.58 187.2v1.85M467 287.7v-3.2M467 187.2v3.2M372.8 287.7h3.2M467 287.7h-3.2M372.8 281h1.85M467 281h-1.85M372.8 274.3h1.85M467 274.3h-1.85M372.8 267.6h1.85M467 267.6h-1.85M372.8 260.9h1.85M467 260.9h-1.85M372.8 254.2h3.2M467 254.2h-3.2M372.8 247.5h1.85M467 247.5h-1.85M372.8 240.8h1.85M467 240.8h-1.85M372.8 234.1h1.85M467 234.1h-1.85M372.8 227.4h1.85M467 227.4h-1.85M372.8 220.7h3.2M467 220.7h-3.2M372.8 214h1.85M467 214h-1.85M372.8 207.3h1.85M467 207.3h-1.85M372.8 200.6h1.85M467 200.6h-1.85M372.8 193.9h1.85M467 193.9h-1.85M372.8 187.2h3.2M467 187.2h-3.2" stroke="#000" stroke-width="1.3" fill="none"/>
<rect x="372.8" y="187.2" width="94.2" height="100.5" fill="none" stroke="#000" stroke-width="1.7"/>
<text class="t" transform="translate(354.11 306.3) scale(1.27 1)">−</text>
<text class="t" x="363.19" y="306.3">1,000</text>
<text class="t" x="417.34" y="306.3">0</text>
<text class="t" x="453.14" y="306.3">1,000</text>
<text class="t" x="361.78" y="291.85">0</text>
<text class="t" x="339.17" y="258.35">0.001</text>
<text class="t" x="339.17" y="224.85">0.002</text>
<text class="t" x="339.17" y="191.35">0.003</text>
<text class="l" x="418" y="326.7" text-anchor="middle">u(Å)</text>
<path d="M517 288.7v-3.2M517 187.8v3.2M526.48 288.7v-1.85M526.48 187.8v1.85M535.96 288.7v-1.85M535.96 187.8v1.85M545.44 288.7v-1.85M545.44 187.8v1.85M554.92 288.7v-1.85M554.92 187.8v1.85M564.4 288.7v-3.2M564.4 187.8v3.2M573.88 288.7v-1.85M573.88 187.8v1.85M583.36 288.7v-1.85M583.36 187.8v1.85M592.84 288.7v-1.85M592.84 187.8v1.85M602.32 288.7v-1.85M602.32 187.8v1.85M611.8 288.7v-3.2M611.8 187.8v3.2M517 288.7h3.2M611.8 288.7h-3.2M517 281.97h1.85M611.8 281.97h-1.85M517 275.25h1.85M611.8 275.25h-1.85M517 268.52h1.85M611.8 268.52h-1.85M517 261.79h1.85M611.8 261.79h-1.85M517 255.07h3.2M611.8 255.07h-3.2M517 248.34h1.85M611.8 248.34h-1.85M517 241.61h1.85M611.8 241.61h-1.85M517 234.89h1.85M611.8 234.89h-1.85M517 228.16h1.85M611.8 228.16h-1.85M517 221.43h3.2M611.8 221.43h-3.2M517 214.71h1.85M611.8 214.71h-1.85M517 207.98h1.85M611.8 207.98h-1.85M517 201.25h1.85M611.8 201.25h-1.85M517 194.53h1.85M611.8 194.53h-1.85M517 187.8h3.2M611.8 187.8h-3.2" stroke="#000" stroke-width="1.3" fill="none"/>
<rect x="517" y="187.8" width="94.8" height="100.9" fill="none" stroke="#000" stroke-width="1.7"/>
<text class="t" transform="translate(498.31 307.3) scale(1.27 1)">−</text>
<text class="t" x="507.39" y="307.3">1,000</text>
<text class="t" x="561.84" y="307.3">0</text>
<text class="t" x="597.94" y="307.3">1,000</text>
<text class="t" x="505.98" y="292.85">0</text>
<text class="t" x="483.37" y="259.22">0.001</text>
<text class="t" x="483.37" y="225.58">0.002</text>
<text class="t" x="483.37" y="191.95">0.003</text>
<text class="l" x="562.5" y="327.7" text-anchor="middle">u(Å)</text>
<text class="l" x="91.2" y="122.8">a)</text>
<text class="l" x="237.1" y="121.4">c)</text>
<text class="l" x="377.8" y="123.9">e)</text>
<text class="l" x="520.6" y="120.9">g)</text>
<text class="l" x="97" y="205.5">b)</text>
<text class="l" x="239.4" y="206.8">d)</text>
<text class="l" x="381.4" y="206.8">f)</text>
<text class="l" x="525.9" y="206.4">h)</text>
<text class="m" x="122.6" y="43.65" textLength="12" lengthAdjust="spacingAndGlyphs">λ=</text>
<text class="m" x="137" y="43.65" textLength="3.4" lengthAdjust="spacingAndGlyphs">-</text>
<text class="m" x="143.3" y="43.65" textLength="24" lengthAdjust="spacingAndGlyphs">850Å</text>
<text class="m s" x="167.4" y="39.7">2</text>
<text class="m" x="264" y="42.1" textLength="11" lengthAdjust="spacingAndGlyphs">λ=</text>
<text class="m" x="278.4" y="42.1" textLength="3.2" lengthAdjust="spacingAndGlyphs">-</text>
<text class="m" x="283.8" y="42.1" textLength="24.1" lengthAdjust="spacingAndGlyphs">600Å</text>
<text class="m s" x="308.8" y="38.2">2</text>
<text class="m" x="393.2" y="43.65" textLength="42.3" lengthAdjust="spacingAndGlyphs">λ=1.5×10</text>
<text class="m s" x="435.8" y="39.8">4</text>
<text class="m" x="440" y="43.65" textLength="7.4" lengthAdjust="spacingAndGlyphs">Å</text>
<text class="m s" x="447.9" y="39.8">2</text>
<text class="m" x="548.7" y="42.3" textLength="22.3" lengthAdjust="spacingAndGlyphs">λ=10</text>
<text class="m s" x="571.8" y="38.5">5</text>
<text class="m" x="575.7" y="42.3" textLength="7.4" lengthAdjust="spacingAndGlyphs">Å</text>
<text class="m s" x="583.1" y="38.5">2</text>
<text class="l" transform="translate(21.4 79) rotate(-90)" text-anchor="middle" textLength="86.4" lengthAdjust="spacingAndGlyphs">Energy(meV)</text>
<g transform="translate(53.1 0) rotate(-90)">
<text class="l" x="-272.8" y="0" textLength="35.5" lengthAdjust="spacing">|χ(u)|</text>
<text class="l" x="-235.8" y="-5.6" style="font-size:8.4px">2</text>
<text class="l" x="-231.2" y="0" textLength="33.3" lengthAdjust="spacingAndGlyphs">(1/Å)</text>
</g>
</svg></body></html>
